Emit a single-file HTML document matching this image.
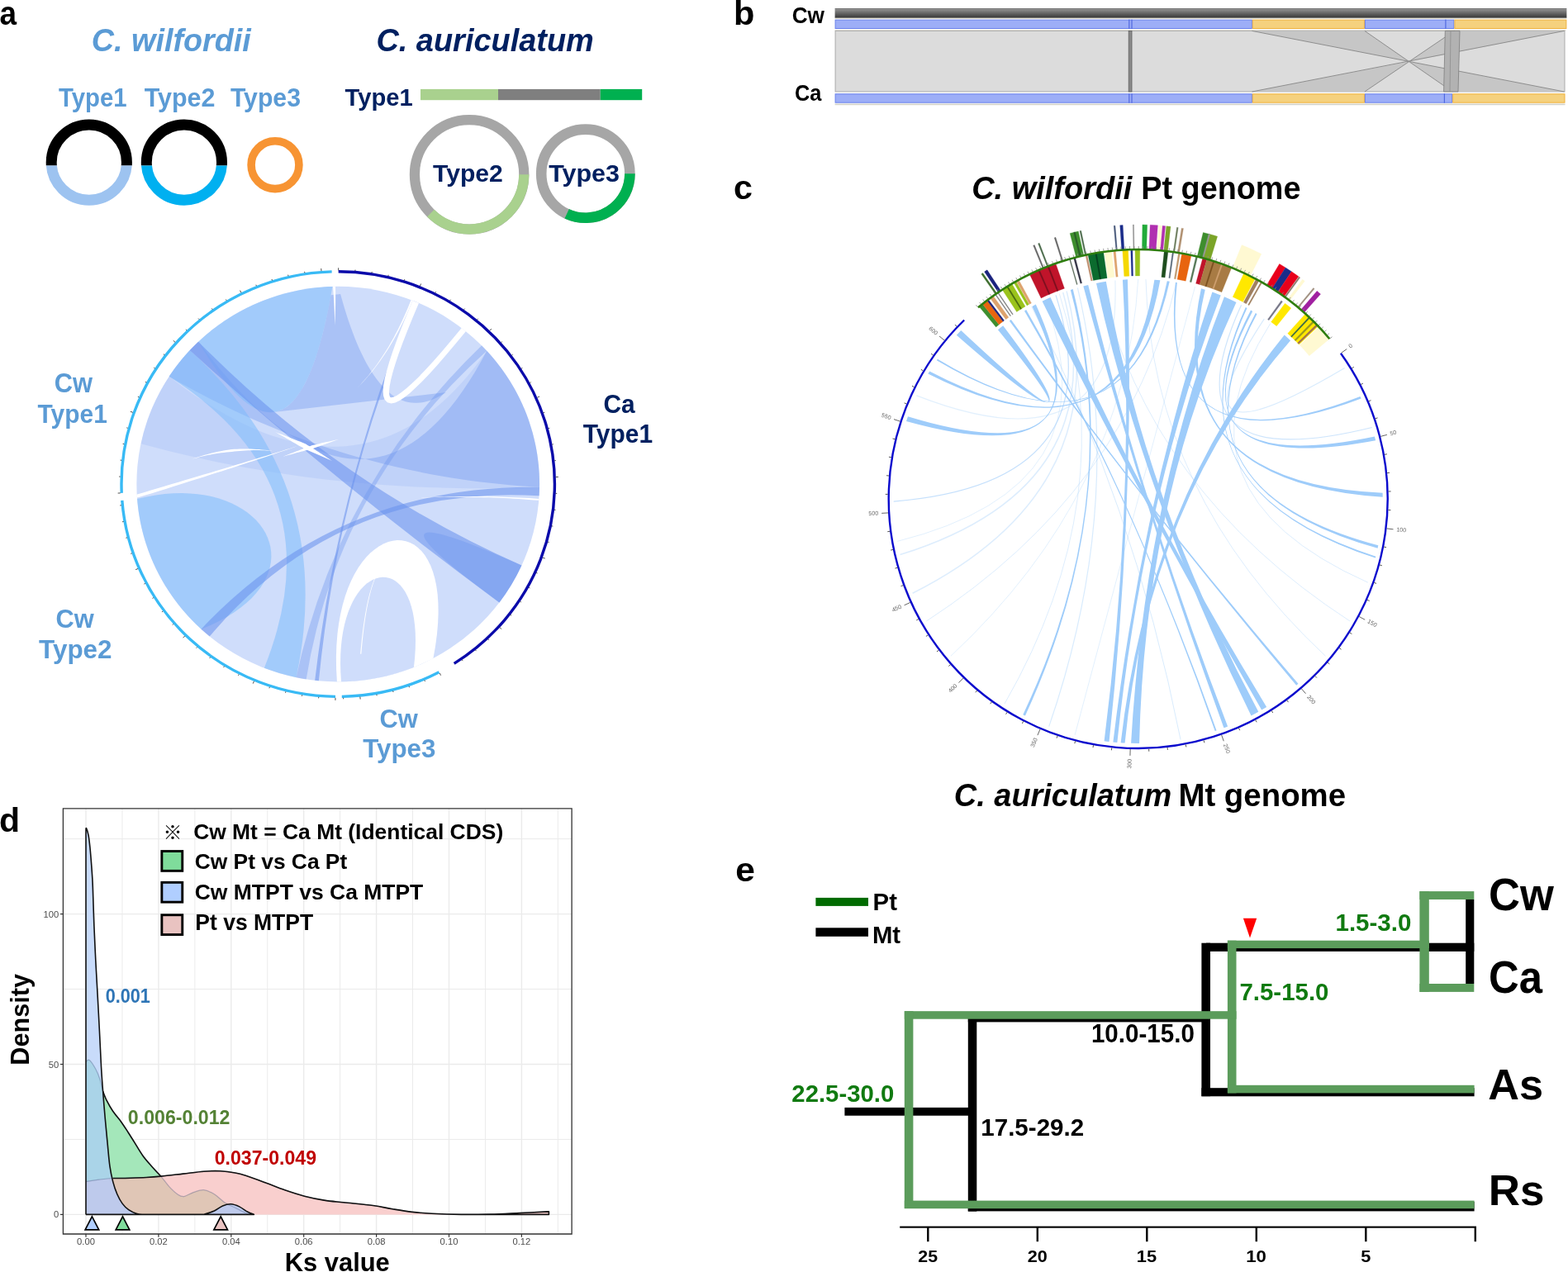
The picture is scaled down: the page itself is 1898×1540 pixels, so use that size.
<!DOCTYPE html>
<html><head><meta charset="utf-8"><style>
html,body{margin:0;padding:0;background:#fff;}
svg{display:block;font-family:"Liberation Sans",Arial,sans-serif;}
</style></head><body>
<svg xmlns="http://www.w3.org/2000/svg" width="1898" height="1540" viewBox="0 0 1898 1540">
<defs>
<clipPath id="cTop"><rect x="0" y="0" width="400" height="200.4"/></clipPath>
<clipPath id="cBot"><rect x="0" y="200.4" width="400" height="100"/></clipPath>
<linearGradient id="gDark" x1="0" y1="0" x2="0" y2="1">
<stop offset="0" stop-color="#5a5a5a"/><stop offset="0.12" stop-color="#8c8c8c"/>
<stop offset="0.6" stop-color="#5c5c5c"/><stop offset="1" stop-color="#353535"/></linearGradient>
<clipPath id="dG"><path d="M104.0,1470.4 L104.0,1285.5 C104.72,1285.15 106.33,1281.93 108.30,1283.40 C110.27,1284.87 113.68,1290.40 115.80,1294.30 C117.92,1298.20 119.53,1302.30 121.00,1306.80 C122.47,1311.30 123.22,1316.98 124.60,1321.30 C125.98,1325.62 127.30,1328.72 129.30,1332.70 C131.30,1336.68 133.65,1340.87 136.60,1345.20 C139.55,1349.53 143.88,1354.37 147.00,1358.70 C150.12,1363.03 152.72,1367.22 155.30,1371.20 C157.88,1375.18 159.57,1377.93 162.50,1382.60 C165.43,1387.27 169.43,1394.35 172.90,1399.20 C176.37,1404.05 179.63,1407.52 183.30,1411.70 C186.97,1415.88 191.28,1420.10 194.90,1424.30 C198.52,1428.50 201.63,1433.28 205.00,1436.90 C208.37,1440.52 212.15,1444.05 215.10,1446.00 C218.05,1447.95 219.53,1449.00 222.70,1448.60 C225.87,1448.20 230.10,1444.92 234.10,1443.60 C238.10,1442.28 242.48,1440.33 246.70,1440.70 C250.92,1441.07 255.18,1443.27 259.40,1445.80 C263.62,1448.33 267.78,1453.17 272.00,1455.90 C276.22,1458.63 280.48,1460.10 284.70,1462.20 C288.92,1464.30 293.93,1467.13 297.30,1468.50 C300.67,1469.87 303.63,1470.08 304.90,1470.40 L304.9,1470.4 Z"/></clipPath>
<clipPath id="dP"><path d="M104.0,1470.4 L104.0,1430.6 C106.72,1430.18 114.85,1428.78 120.30,1428.10 C125.75,1427.42 130.38,1426.82 136.70,1426.50 C143.02,1426.18 151.45,1426.37 158.20,1426.20 C164.95,1426.03 171.08,1425.85 177.20,1425.50 C183.32,1425.15 187.52,1424.83 194.90,1424.10 C202.28,1423.37 212.87,1422.08 221.50,1421.10 C230.13,1420.12 239.18,1418.75 246.70,1418.20 C254.22,1417.65 260.27,1417.50 266.60,1417.80 C272.93,1418.10 279.57,1419.08 284.70,1420.00 C289.83,1420.92 291.33,1421.33 297.40,1423.30 C303.47,1425.27 313.20,1428.88 321.10,1431.80 C329.00,1434.72 336.90,1438.07 344.80,1440.80 C352.70,1443.53 360.58,1446.15 368.50,1448.20 C376.42,1450.25 384.38,1451.83 392.30,1453.10 C400.22,1454.37 406.13,1454.73 416.00,1455.80 C425.87,1456.87 441.63,1458.17 451.50,1459.50 C461.37,1460.83 467.30,1462.48 475.20,1463.80 C483.10,1465.12 490.98,1466.48 498.90,1467.40 C506.82,1468.32 512.82,1468.80 522.70,1469.30 C532.58,1469.80 546.35,1470.28 558.20,1470.40 C570.05,1470.52 581.95,1470.32 593.80,1470.00 C605.65,1469.68 617.65,1469.02 629.30,1468.50 C640.95,1467.98 657.97,1467.17 663.70,1466.90 L664.4,1466.9 L664.4,1470.4 Z"/></clipPath>
</defs>
<rect width="1898" height="1540" fill="#fff"/>
<text x="-0.51" y="29.50" font-size="40.00" font-weight="bold" font-style="normal" fill="#000" textLength="20.58" lengthAdjust="spacingAndGlyphs" >a</text>
<text x="887.90" y="29.60" font-size="40.55" font-weight="bold" font-style="normal" fill="#000" textLength="25.40" lengthAdjust="spacingAndGlyphs" >b</text>
<text x="887.95" y="240.60" font-size="40.93" font-weight="bold" font-style="normal" fill="#000" textLength="22.93" lengthAdjust="spacingAndGlyphs" >c</text>
<text x="-1.14" y="1007.40" font-size="40.41" font-weight="bold" font-style="normal" fill="#000" textLength="25.04" lengthAdjust="spacingAndGlyphs" >d</text>
<text x="890.20" y="1067.20" font-size="40.56" font-weight="bold" font-style="normal" fill="#000" textLength="23.64" lengthAdjust="spacingAndGlyphs" >e</text>
<text x="110.81" y="62.20" font-size="39.14" font-weight="bold" font-style="italic" fill="#5B9BD5" textLength="192.96" lengthAdjust="spacingAndGlyphs" >C. wilfordii</text>
<text x="455.40" y="62.10" font-size="39.57" font-weight="bold" font-style="italic" fill="#002060" textLength="263.45" lengthAdjust="spacingAndGlyphs" >C. auriculatum</text>
<text x="70.91" y="128.60" font-size="30.58" font-weight="bold" font-style="normal" fill="#5B9BD5" textLength="82.66" lengthAdjust="spacingAndGlyphs" >Type1</text>
<text x="174.70" y="128.60" font-size="30.58" font-weight="bold" font-style="normal" fill="#5B9BD5" textLength="85.75" lengthAdjust="spacingAndGlyphs" >Type2</text>
<text x="278.90" y="128.60" font-size="30.58" font-weight="bold" font-style="normal" fill="#5B9BD5" textLength="85.09" lengthAdjust="spacingAndGlyphs" >Type3</text>
<text x="417.61" y="128.10" font-size="30.14" font-weight="bold" font-style="normal" fill="#002060" textLength="82.15" lengthAdjust="spacingAndGlyphs" >Type1</text>
<circle cx="107.8" cy="196.6" r="45.6" fill="none" stroke="#000" stroke-width="13" clip-path="url(#cTop)"/>
<circle cx="107.8" cy="196.6" r="45.6" fill="none" stroke="#9DC3F0" stroke-width="13" clip-path="url(#cBot)"/>
<circle cx="222.9" cy="196.6" r="45.6" fill="none" stroke="#000" stroke-width="13" clip-path="url(#cTop)"/>
<circle cx="222.9" cy="196.6" r="45.6" fill="none" stroke="#00B0F0" stroke-width="13" clip-path="url(#cBot)"/>
<circle cx="333.0" cy="199.7" r="28.9" fill="none" stroke="#F79433" stroke-width="9.6"/>
<rect x="509" y="107.9" width="94" height="13.3" fill="#A9D18E"/>
<rect x="603" y="107.9" width="123.7" height="13.3" fill="#7F7F7F"/>
<rect x="726.7" y="107.9" width="50.5" height="13.3" fill="#00B050"/>
<circle cx="568.1" cy="211.3" r="66.2" fill="none" stroke="#A6A6A6" stroke-width="12.2"/>
<path d="M634.30,211.30 A66.2,66.2 0 0 1 521.29,258.11" fill="none" stroke="#A9D18E" stroke-width="12.2"/>
<circle cx="708.8" cy="210.2" r="53.6" fill="none" stroke="#A6A6A6" stroke-width="12.6"/>
<path d="M762.40,210.20 A53.6,53.6 0 0 1 686.15,258.78" fill="none" stroke="#00B050" stroke-width="12.6"/>
<text x="524.00" y="220.20" font-size="29.86" font-weight="bold" font-style="normal" fill="#002060" textLength="84.84" lengthAdjust="spacingAndGlyphs" >Type2</text>
<text x="664.20" y="220.20" font-size="29.86" font-weight="bold" font-style="normal" fill="#002060" textLength="85.70" lengthAdjust="spacingAndGlyphs" >Type3</text>
<ellipse cx="409.2" cy="586.1" rx="243.85" ry="239.3" fill="#CFDDFB"/>
<path d="M524.43,797.00 L521.75,798.39 L519.05,799.74 L516.33,801.07 L513.60,802.36 L510.85,803.61 L508.09,804.84 L505.31,806.03 L502.52,807.18 L499.71,808.31 L496.88,809.39 L494.05,810.45 L491.20,811.46 L488.34,812.45 L485.46,813.40 L482.58,814.31 L479.68,815.19 L476.77,816.03 L473.85,816.84 L470.92,817.61 L467.99,818.34 L465.04,819.04 L462.08,819.71 L459.12,820.33 L456.15,820.92 L453.17,821.48 L450.18,822.00 L447.19,822.48 L444.19,822.92 L441.19,823.33 L438.18,823.70 L435.17,824.04 L432.15,824.34 L429.13,824.60 L426.10,824.82 L423.08,825.01 L420.05,825.16 L417.02,825.28 L413.99,825.35 L410.96,825.39 L407.92,825.40 L407.92,825.40 L407.08,809.97 L406.90,795.23 L407.36,781.21 L408.41,767.89 L410.02,755.28 L412.15,743.39 L414.76,732.22 L417.82,721.78 L421.28,712.07 L425.11,703.09 L429.28,694.85 L433.73,687.35 L438.45,680.61 L443.38,674.61 L448.49,669.37 L453.74,664.89 L459.10,661.18 L464.52,658.24 L469.97,656.07 L475.42,654.67 L480.82,654.06 L486.13,654.24 L491.33,655.21 L496.36,656.98 L501.20,659.54 L505.80,662.91 L510.13,667.09 L514.15,672.08 L517.82,677.89 L521.10,684.52 L523.96,691.98 L526.36,700.27 L528.26,709.39 L529.63,719.35 L530.42,730.16 L530.60,741.81 L530.12,754.32 L528.96,767.68 L527.08,781.91 L524.43,797.00 Z" fill="#fff"/>
<path d="M500.94,807.82 L498.85,808.64 L496.75,809.45 L494.64,810.23 L492.52,811.00 L490.40,811.74 L488.27,812.47 L486.13,813.18 L483.99,813.87 L481.84,814.54 L479.68,815.19 L477.52,815.82 L475.35,816.43 L473.18,817.02 L471.00,817.59 L468.81,818.14 L466.62,818.67 L464.43,819.18 L462.23,819.67 L460.02,820.14 L457.82,820.60 L455.60,821.03 L453.39,821.44 L451.17,821.83 L448.94,822.20 L446.72,822.55 L444.49,822.88 L442.25,823.19 L440.02,823.48 L437.78,823.75 L435.54,824.00 L433.29,824.23 L431.05,824.44 L428.80,824.63 L426.55,824.79 L424.30,824.94 L422.05,825.07 L419.79,825.17 L417.54,825.26 L415.29,825.33 L413.03,825.37 L413.03,825.37 L412.30,813.97 L412.04,803.09 L412.23,792.71 L412.84,782.86 L413.85,773.53 L415.23,764.73 L416.95,756.47 L419.00,748.73 L421.34,741.54 L423.95,734.89 L426.80,728.78 L429.87,723.23 L433.14,718.24 L436.57,713.80 L440.14,709.93 L443.83,706.62 L447.62,703.89 L451.46,701.73 L455.35,700.15 L459.25,699.15 L463.13,698.74 L466.99,698.92 L470.78,699.70 L474.48,701.07 L478.07,703.05 L481.51,705.64 L484.80,708.83 L487.89,712.65 L490.77,717.08 L493.41,722.13 L495.79,727.81 L497.87,734.13 L499.63,741.07 L501.05,748.66 L502.10,756.89 L502.76,765.76 L503.00,775.29 L502.79,785.47 L502.11,796.31 L500.94,807.82 Z" fill="#CFDDFB"/>
<path d="M400.57,357.37 L399.33,364.10 L398.06,370.67 L396.77,377.08 L395.45,383.32 L394.11,389.40 L392.74,395.31 L391.35,401.06 L389.93,406.65 L388.48,412.07 L387.01,417.33 L385.52,422.43 L384.00,427.36 L382.45,432.13 L380.88,436.74 L379.28,441.18 L377.66,445.46 L376.01,449.57 L374.34,453.52 L372.64,457.31 L370.92,460.93 L369.17,464.39 L367.39,467.69 L365.59,470.82 L363.76,473.79 L361.91,476.59 L360.03,479.23 L358.13,481.71 L356.20,484.02 L354.25,486.17 L352.27,488.16 L350.27,489.98 L348.24,491.64 L346.18,493.13 L344.10,494.47 L341.99,495.63 L339.86,496.64 L337.71,497.48 L335.52,498.15 L333.32,498.67 L331.08,499.01 L539.85,475.02 L535.84,477.58 L531.88,479.86 L527.95,481.85 L524.07,483.56 L520.23,484.98 L516.43,486.12 L512.68,486.98 L508.96,487.55 L505.29,487.84 L501.66,487.84 L498.07,487.56 L494.52,487.00 L491.01,486.15 L487.55,485.02 L484.13,483.61 L480.75,481.91 L477.41,479.93 L474.11,477.67 L470.85,475.12 L467.64,472.29 L464.46,469.17 L461.33,465.77 L458.24,462.09 L455.19,458.12 L452.19,453.87 L449.22,449.33 L446.30,444.52 L443.42,439.41 L440.58,434.03 L437.78,428.36 L435.02,422.41 L432.31,416.17 L429.63,409.65 L427.00,402.84 L424.41,395.76 L421.86,388.39 L419.36,380.73 L416.89,372.79 L414.47,364.57 L412.09,356.06 Z" fill="#6A93EE" fill-opacity="0.36"/>
<path d="M589.27,424.74 L592.34,428.11 L595.35,431.53 L598.30,435.01 L601.17,438.54 L603.98,442.13 L606.71,445.76 L609.38,449.45 L611.97,453.19 L614.50,456.97 L616.95,460.80 L619.32,464.67 L621.62,468.59 L623.85,472.55 L625.99,476.55 L628.06,480.59 L630.06,484.66 L631.97,488.78 L633.80,492.92 L635.56,497.11 L637.23,501.32 L638.82,505.56 L640.33,509.83 L641.76,514.13 L643.10,518.46 L644.36,522.80 L645.54,527.18 L646.63,531.57 L647.64,535.98 L648.56,540.41 L649.40,544.85 L650.15,549.32 L650.81,553.79 L651.39,558.27 L651.88,562.77 L652.29,567.27 L652.61,571.78 L652.84,576.30 L652.99,580.82 L653.05,585.34 L653.02,589.86 L653.02,589.86 L641.00,589.12 L629.03,588.25 L617.10,587.25 L605.20,586.11 L593.35,584.84 L581.55,583.44 L569.78,581.89 L558.05,580.22 L546.37,578.41 L534.73,576.47 L523.13,574.39 L511.57,572.18 L500.05,569.83 L488.57,567.35 L477.14,564.74 L465.74,561.99 L454.39,559.11 L443.08,556.09 L431.81,552.94 L420.58,549.66 L409.39,546.24 L398.24,542.68 L387.14,539.00 L376.08,535.17 L365.05,531.22 L354.07,527.13 L343.13,522.90 L332.24,518.54 L321.38,514.05 L310.57,509.42 L299.79,504.66 L289.06,499.77 L278.37,494.74 L267.72,489.57 L257.11,484.27 L246.55,478.84 L236.02,473.27 L225.54,467.57 L215.09,461.74 L204.69,455.77 L204.69,455.77 L205.46,454.62 L206.22,453.48 L207.00,452.35 L207.78,451.21 L208.57,450.09 L209.37,448.96 L210.17,447.84 L210.98,446.73 L211.79,445.62 L212.61,444.52 L213.44,443.42 L214.28,442.32 L215.12,441.23 L215.96,440.14 L216.82,439.06 L217.68,437.98 L218.54,436.91 L219.41,435.84 L220.29,434.78 L221.18,433.73 L222.07,432.67 L222.96,431.63 L223.87,430.58 L224.78,429.55 L225.69,428.51 L226.61,427.49 L227.54,426.47 L228.47,425.45 L229.41,424.44 L230.35,423.43 L231.31,422.43 L232.26,421.44 L233.22,420.45 L234.19,419.46 L235.16,418.48 L236.14,417.51 L237.13,416.54 L238.12,415.58 L239.11,414.62 L240.12,413.67 L240.12,413.67 L250.48,427.27 L260.77,440.19 L270.97,452.42 L281.08,463.97 L291.11,474.84 L301.06,485.02 L310.92,494.52 L320.70,503.34 L330.40,511.47 L340.01,518.92 L349.53,525.69 L358.98,531.78 L368.34,537.18 L377.61,541.89 L386.80,545.93 L395.91,549.28 L404.93,551.95 L413.87,553.93 L422.73,555.23 L431.50,555.85 L440.18,555.79 L448.79,555.04 L457.30,553.61 L465.74,551.49 L474.09,548.70 L482.36,545.21 L490.54,541.05 L498.64,536.20 L506.65,530.67 L514.58,524.46 L522.43,517.56 L530.19,509.98 L537.87,501.72 L545.47,492.77 L552.98,483.14 L560.40,472.83 L567.75,461.83 L575.00,450.15 L582.18,437.79 L589.27,424.74 Z" fill="#6A93EE" fill-opacity="0.36"/>
<path d="M589.27,424.74 L592.34,428.11 L595.35,431.53 L598.30,435.01 L601.17,438.54 L603.98,442.13 L606.71,445.76 L609.38,449.45 L611.97,453.19 L614.50,456.97 L616.95,460.80 L619.32,464.67 L621.62,468.59 L623.85,472.55 L625.99,476.55 L628.06,480.59 L630.06,484.66 L631.97,488.78 L633.80,492.92 L635.56,497.11 L637.23,501.32 L638.82,505.56 L640.33,509.83 L641.76,514.13 L643.10,518.46 L644.36,522.80 L645.54,527.18 L646.63,531.57 L647.64,535.98 L648.56,540.41 L649.40,544.85 L650.15,549.32 L650.81,553.79 L651.39,558.27 L651.88,562.77 L652.29,567.27 L652.61,571.78 L652.84,576.30 L652.99,580.82 L653.05,585.34 L653.02,589.86 L653.02,589.86 L640.38,590.32 L627.77,590.69 L615.20,590.97 L602.65,591.16 L590.13,591.25 L577.64,591.26 L565.18,591.17 L552.75,591.00 L540.35,590.73 L527.98,590.37 L515.64,589.92 L503.32,589.38 L491.04,588.74 L478.79,588.02 L466.56,587.20 L454.37,586.30 L442.20,585.30 L430.07,584.21 L417.96,583.03 L405.88,581.76 L393.83,580.39 L381.81,578.94 L369.82,577.39 L357.86,575.76 L345.93,574.03 L334.03,572.21 L322.16,570.30 L310.32,568.30 L298.51,566.20 L286.72,564.02 L274.97,561.75 L263.24,559.38 L251.55,556.92 L239.88,554.37 L228.25,551.73 L216.64,549.00 L205.06,546.18 L193.51,543.27 L182.00,540.26 L170.51,537.16 L170.51,537.16 L170.98,535.00 L171.47,532.84 L171.98,530.68 L172.51,528.53 L173.07,526.39 L173.64,524.25 L174.23,522.11 L174.85,519.98 L175.48,517.85 L176.13,515.74 L176.81,513.62 L177.50,511.52 L178.21,509.42 L178.94,507.32 L179.70,505.24 L180.47,503.16 L181.26,501.08 L182.07,499.02 L182.90,496.96 L183.75,494.91 L184.62,492.87 L185.51,490.83 L186.42,488.81 L187.34,486.79 L188.29,484.78 L189.25,482.78 L190.24,480.79 L191.24,478.80 L192.26,476.83 L193.30,474.86 L194.36,472.91 L195.43,470.96 L196.53,469.03 L197.64,467.10 L198.77,465.19 L199.92,463.28 L201.09,461.39 L202.27,459.50 L203.47,457.63 L204.69,455.77 L204.69,455.77 L216.40,464.73 L228.01,473.19 L239.51,481.16 L250.89,488.62 L262.18,495.58 L273.35,502.05 L284.42,508.01 L295.37,513.48 L306.23,518.45 L316.97,522.92 L327.61,526.88 L338.13,530.35 L348.55,533.32 L358.87,535.79 L369.07,537.76 L379.17,539.23 L389.16,540.21 L399.05,540.68 L408.82,540.65 L418.49,540.13 L428.05,539.10 L437.50,537.58 L446.85,535.55 L456.09,533.03 L465.22,530.01 L474.24,526.48 L483.16,522.46 L491.96,517.94 L500.66,512.92 L509.26,507.40 L517.74,501.38 L526.12,494.86 L534.39,487.85 L542.55,480.33 L550.61,472.31 L558.56,463.80 L566.40,454.78 L574.13,445.27 L581.75,435.25 L589.27,424.74 Z" fill="#6A93EE" fill-opacity="0.14"/>
<path d="M240.12,413.67 L243.39,410.64 L246.72,407.67 L250.10,404.75 L253.54,401.90 L257.03,399.11 L260.57,396.39 L264.16,393.73 L267.81,391.14 L271.50,388.61 L275.23,386.15 L279.02,383.76 L282.84,381.43 L286.72,379.18 L290.63,377.00 L294.58,374.88 L298.57,372.84 L302.60,370.88 L306.67,368.98 L310.77,367.16 L314.90,365.42 L319.07,363.75 L323.27,362.15 L327.49,360.63 L331.75,359.19 L336.03,357.83 L340.33,356.54 L344.66,355.33 L349.01,354.20 L353.38,353.15 L357.77,352.18 L362.18,351.29 L366.61,350.48 L371.04,349.75 L375.49,349.10 L379.96,348.53 L384.43,348.04 L388.91,347.63 L393.40,347.30 L397.89,347.06 L402.39,346.89 L402.39,346.89 L400.10,359.93 L397.72,372.38 L395.25,384.25 L392.69,395.53 L390.04,406.24 L387.29,416.36 L384.46,425.89 L381.54,434.85 L378.52,443.22 L375.41,451.01 L372.22,458.21 L368.93,464.84 L365.55,470.88 L362.09,476.33 L358.53,481.21 L354.88,485.50 L351.14,489.21 L347.31,492.34 L343.39,494.88 L339.38,496.84 L335.27,498.22 L331.08,499.01 L326.80,499.23 L322.42,498.86 L317.96,497.90 L313.40,496.37 L308.76,494.25 L304.02,491.55 L299.20,488.26 L294.28,484.40 L289.27,479.95 L284.17,474.91 L278.98,469.30 L273.70,463.10 L268.33,456.32 L262.87,448.96 L257.32,441.01 L251.67,432.48 L245.94,423.37 L240.12,413.67 Z" fill="#7DBCFB" fill-opacity="0.55"/>
<path d="M243.52,761.68 L240.20,758.61 L236.94,755.47 L233.74,752.28 L230.60,749.03 L227.52,745.72 L224.51,742.35 L221.56,738.93 L218.68,735.46 L215.87,731.93 L213.12,728.36 L210.44,724.73 L207.83,721.06 L205.29,717.33 L202.82,713.56 L200.43,709.75 L198.11,705.89 L195.86,702.00 L193.69,698.06 L191.59,694.08 L189.57,690.06 L187.62,686.01 L185.76,681.92 L183.97,677.80 L182.26,673.65 L180.63,669.46 L179.08,665.25 L177.61,661.01 L176.22,656.74 L174.91,652.45 L173.69,648.14 L172.55,643.80 L171.49,639.44 L170.51,635.07 L169.62,630.67 L168.81,626.27 L168.09,621.84 L167.45,617.41 L166.89,612.96 L166.42,608.51 L166.04,604.04 L166.04,604.04 L177.45,601.44 L188.56,599.46 L199.36,598.09 L209.85,597.30 L219.99,597.08 L229.78,597.39 L239.20,598.21 L248.24,599.52 L256.88,601.30 L265.10,603.53 L272.90,606.17 L280.25,609.22 L287.14,612.63 L293.55,616.40 L299.47,620.50 L304.89,624.90 L309.79,629.58 L314.15,634.53 L317.95,639.70 L321.20,645.09 L323.85,650.67 L325.92,656.41 L327.37,662.30 L328.19,668.30 L328.37,674.40 L327.89,680.58 L326.73,686.80 L324.89,693.05 L322.34,699.30 L319.08,705.54 L315.08,711.73 L310.33,717.85 L304.82,723.89 L298.52,729.81 L291.43,735.60 L283.53,741.22 L274.81,746.67 L265.24,751.91 L254.82,756.92 L243.52,761.68 Z" fill="#7DBCFB" fill-opacity="0.55"/>
<path d="M358.50,820.17 A243.85,239.30 0 0 1 319.83,808.75 Q409.20,586.10 204.69,455.77 A243.85,239.30 0 0 1 229.71,424.12 Q409.20,586.10 358.50,820.17 Z" fill="#7DBCFB" fill-opacity="0.55"/>
<path d="M229.71,424.12 A243.85,239.30 0 0 1 240.12,413.67 Q409.20,586.10 631.44,684.58 A243.85,239.30 0 0 1 604.46,729.45 Q409.20,586.10 229.71,424.12 Z" fill="#6A93EE" fill-opacity="0.58"/>
<path d="M253.77,770.48 A243.85,239.30 0 0 1 243.52,761.68 Q409.20,586.10 653.02,589.86 A243.85,239.30 0 0 1 652.62,600.29 Q409.20,586.10 253.77,770.48 Z" fill="#6A93EE" fill-opacity="0.58"/>
<path d="M370.63,822.39 A243.85,239.30 0 0 1 358.50,820.17 Q409.20,586.10 583.12,418.37 A243.85,239.30 0 0 1 589.27,424.74 Q409.20,586.10 370.63,822.39 Z" fill="#6A93EE" fill-opacity="0.36"/>
<path d="M385.83,824.30 A243.85,239.30 0 0 1 381.17,823.81 Q409.20,586.10 500.55,364.22 A243.85,239.30 0 0 1 504.09,365.66 Q409.20,586.10 385.83,824.30 Z" fill="#6A93EE" fill-opacity="0.58"/>
<path d="M631.44,684.58 A243.85,239.30 0 0 1 604.46,729.45 Q409.20,586.10 631.44,684.58 A243.85,239.30 0 0 1 604.46,729.45 Q409.20,586.10 631.44,684.58 Z" fill="#6A93EE" fill-opacity="0.36"/>
<path d="M403.02,346.92 L403.18,349.05 L403.34,351.17 L403.49,353.27 L403.63,355.36 L403.77,357.43 L403.90,359.49 L404.02,361.53 L404.14,363.55 L404.25,365.56 L404.36,367.56 L404.45,369.54 L404.54,371.51 L404.63,373.46 L404.71,375.39 L404.78,377.31 L404.84,379.21 L404.90,381.10 L404.95,382.98 L405.00,384.84 L405.03,386.68 L405.07,388.51 L405.09,390.32 L405.11,392.12 L405.12,393.91 L405.12,393.91 L405.23,392.13 L405.34,390.33 L405.44,388.52 L405.53,386.69 L405.62,384.84 L405.70,382.98 L405.77,381.11 L405.84,379.22 L405.90,377.31 L405.96,375.38 L406.00,373.44 L406.04,371.49 L406.08,369.51 L406.11,367.53 L406.13,365.52 L406.14,363.50 L406.15,361.47 L406.15,359.41 L406.14,357.35 L406.13,355.26 L406.11,353.16 L406.09,351.05 L406.06,348.92 L406.02,346.77 Z" fill="#fff"/>
<path d="M499.62,363.77 L492.22,381.52 L485.66,397.86 L479.96,412.79 L475.11,426.33 L471.11,438.47 L467.96,449.22 L465.66,458.62 L464.21,466.68 L463.63,473.47 L464.00,479.12 L465.57,483.81 L468.94,487.29 L473.61,488.45 L478.47,487.50 L483.61,485.07 L489.33,481.28 L495.78,476.13 L503.01,469.61 L511.05,461.70 L519.93,452.40 L529.64,441.69 L540.20,429.58 L551.60,416.06 L563.85,401.13 L558.81,397.03 L546.56,411.86 L535.17,425.26 L524.65,437.24 L514.99,447.79 L506.21,456.91 L498.30,464.60 L491.29,470.84 L485.21,475.62 L480.11,478.93 L476.14,480.77 L473.59,481.26 L472.58,481.02 L471.97,480.27 L471.27,477.90 L471.07,473.66 L471.64,467.73 L473.05,460.23 L475.32,451.24 L478.45,440.78 L482.43,428.87 L487.28,415.52 L492.99,400.74 L499.56,384.54 L506.98,366.90 Z" fill="#fff"/>
<path d="M497.64,363.08 L495.43,368.60 L493.17,374.03 L490.87,379.36 L488.53,384.60 L486.14,389.75 L483.71,394.80 L481.23,399.76 L478.71,404.62 L476.15,409.39 L473.54,414.06 L470.89,418.64 L468.19,423.13 L465.45,427.52 L462.66,431.82 L459.84,436.02 L456.96,440.14 L454.04,444.15 L451.08,448.07 L448.07,451.90 L445.02,455.64 L441.93,459.28 L438.79,462.82 L435.60,466.28 L432.37,469.64 L432.37,469.64 L435.66,466.33 L438.91,462.94 L442.11,459.44 L445.28,455.85 L448.40,452.17 L451.47,448.38 L454.51,444.50 L457.50,440.53 L460.45,436.45 L463.36,432.29 L466.22,428.02 L469.04,423.66 L471.82,419.20 L474.55,414.65 L477.24,410.00 L479.89,405.25 L482.49,400.41 L485.05,395.47 L487.57,390.44 L490.04,385.31 L492.47,380.08 L494.86,374.76 L497.20,369.34 L499.50,363.82 Z" fill="#fff"/>
<path d="M652.37,603.88 L646.29,603.47 L640.21,603.08 L634.14,602.74 L628.07,602.42 L622.00,602.13 L615.94,601.88 L609.89,601.65 L603.84,601.46 L597.79,601.30 L591.75,601.17 L585.72,601.07 L579.69,601.01 L573.66,600.97 L567.64,600.97 L561.62,601.00 L555.61,601.06 L549.61,601.15 L543.60,601.27 L537.61,601.42 L531.62,601.61 L525.63,601.83 L519.64,602.08 L513.67,602.35 L507.69,602.67 L507.69,602.67 L513.67,602.44 L519.65,602.24 L525.64,602.08 L531.62,601.94 L537.62,601.84 L543.61,601.77 L549.61,601.73 L555.62,601.72 L561.63,601.75 L567.64,601.80 L573.65,601.89 L579.67,602.01 L585.70,602.16 L591.72,602.34 L597.76,602.55 L603.79,602.79 L609.83,603.07 L615.87,603.37 L621.92,603.71 L627.97,604.08 L634.03,604.48 L640.09,604.91 L646.15,605.38 L652.22,605.87 Z" fill="#fff"/>
<path d="M166.39,602.62 L175.23,599.87 L183.91,597.16 L192.43,594.50 L200.78,591.88 L208.97,589.31 L216.99,586.78 L224.84,584.30 L232.53,581.87 L240.06,579.49 L247.42,577.14 L254.62,574.85 L261.65,572.60 L268.51,570.40 L275.21,568.24 L281.75,566.13 L288.12,564.07 L294.33,562.05 L300.37,560.08 L306.25,558.15 L311.96,556.27 L317.50,554.44 L322.89,552.65 L328.10,550.91 L333.16,549.21 L338.04,547.56 L342.76,545.96 L347.32,544.40 L351.71,542.89 L355.94,541.42 L360.00,540.00 L360.00,540.00 L355.90,541.29 L351.63,542.63 L347.20,544.02 L342.60,545.45 L337.84,546.92 L332.91,548.45 L327.82,550.02 L322.56,551.63 L317.14,553.29 L311.55,555.00 L305.80,556.75 L299.89,558.55 L293.81,560.40 L287.56,562.29 L281.15,564.22 L274.58,566.21 L267.84,568.23 L260.94,570.31 L253.87,572.43 L246.63,574.60 L239.23,576.81 L231.67,579.07 L223.94,581.37 L216.05,583.72 L207.99,586.12 L199.77,588.56 L191.38,591.05 L182.83,593.59 L174.11,596.17 L165.23,598.80 Z" fill="#fff"/>
<path d="M232.00,556.00 L235.23,555.05 L238.47,554.16 L241.70,553.31 L244.94,552.51 L248.18,551.76 L251.42,551.06 L254.66,550.41 L257.91,549.81 L261.15,549.26 L264.40,548.76 L267.65,548.31 L270.90,547.91 L274.15,547.55 L277.40,547.25 L280.65,546.99 L283.89,546.59 L287.14,546.23 L290.39,545.92 L293.65,545.66 L296.92,545.44 L300.19,545.28 L303.47,545.16 L306.76,545.10 L310.06,545.08 L313.37,545.11 L316.68,545.19 L320.00,545.32 L323.32,545.50 L326.66,545.72 L330.00,546.00 L330.00,546.00 L326.68,545.52 L323.36,545.10 L320.04,544.72 L316.73,544.39 L313.41,544.11 L310.10,543.88 L306.79,543.70 L303.48,543.56 L300.17,543.48 L296.86,543.44 L293.56,543.46 L290.25,543.52 L286.95,543.63 L283.65,543.80 L280.35,544.01 L277.07,544.47 L273.81,544.98 L270.54,545.53 L267.29,546.14 L264.05,546.79 L260.81,547.50 L257.58,548.25 L254.36,549.05 L251.14,549.90 L247.93,550.79 L244.73,551.74 L241.54,552.73 L238.35,553.77 L235.17,554.86 L232.00,556.00 Z" fill="#fff"/>
<path d="M333.00,523.00 L335.38,524.32 L337.74,525.63 L340.10,526.95 L342.44,528.27 L344.77,529.60 L347.08,530.92 L349.39,532.25 L351.68,533.58 L353.96,534.91 L356.23,536.24 L358.49,537.57 L360.73,538.91 L362.96,540.25 L365.18,541.58 L367.39,542.93 L369.77,543.91 L372.14,544.90 L374.50,545.89 L376.84,546.89 L379.18,547.88 L381.51,548.88 L383.83,549.88 L386.13,550.89 L388.43,551.90 L390.72,552.91 L392.99,553.92 L395.26,554.94 L397.52,555.95 L399.76,556.98 L402.00,558.00 L402.00,558.00 L399.96,556.63 L397.91,555.25 L395.84,553.88 L393.76,552.52 L391.67,551.15 L389.57,549.78 L387.46,548.42 L385.33,547.06 L383.19,545.70 L381.04,544.34 L378.88,542.98 L376.70,541.63 L374.52,540.28 L372.32,538.92 L370.11,537.57 L367.70,536.58 L365.29,535.60 L362.87,534.61 L360.44,533.63 L357.99,532.65 L355.54,531.67 L353.07,530.70 L350.60,529.73 L348.12,528.76 L345.62,527.79 L343.12,526.83 L340.60,525.87 L338.08,524.91 L335.55,523.95 L333.00,523.00 Z" fill="#fff"/>
<path d="M342.00,553.00 L344.57,552.27 L347.12,551.54 L349.65,550.83 L352.16,550.13 L354.65,549.44 L357.13,548.76 L359.59,548.09 L362.03,547.44 L364.45,546.79 L366.85,546.16 L369.24,545.54 L371.60,544.93 L373.95,544.33 L376.28,543.74 L378.59,543.16 L380.80,542.34 L383.00,541.53 L385.18,540.73 L387.34,539.94 L389.49,539.17 L391.62,538.40 L393.73,537.65 L395.82,536.90 L397.90,536.17 L399.96,535.45 L402.00,534.74 L404.03,534.04 L406.03,533.35 L408.03,532.67 L410.00,532.00 L410.00,532.00 L407.96,532.41 L405.89,532.83 L403.81,533.26 L401.71,533.71 L399.60,534.16 L397.46,534.63 L395.31,535.11 L393.13,535.60 L390.94,536.10 L388.73,536.61 L386.50,537.13 L384.26,537.67 L381.99,538.21 L379.71,538.77 L377.41,539.34 L375.17,540.17 L372.91,541.02 L370.64,541.87 L368.35,542.74 L366.04,543.62 L363.71,544.51 L361.37,545.41 L359.01,546.32 L356.63,547.24 L354.23,548.17 L351.82,549.12 L349.39,550.07 L346.95,551.04 L344.48,552.01 L342.00,553.00 Z" fill="#fff"/>
<path d="M437.35,791.83 L437.84,785.96 L438.35,780.24 L438.90,774.67 L439.48,769.25 L440.10,763.98 L440.74,758.86 L441.42,753.89 L442.13,749.06 L442.86,744.39 L443.64,739.87 L444.44,735.49 L445.27,731.26 L446.14,727.19 L447.04,723.26 L447.97,719.48 L448.93,715.85 L449.92,712.37 L450.95,709.04 L452.00,705.86 L453.09,702.82 L454.21,699.94 L455.36,697.21 L456.54,694.62 L457.76,692.18 L459.00,689.89 L460.28,687.76 L461.59,685.76 L462.93,683.92 L464.30,682.23 L465.71,680.68 L465.49,680.47 L464.05,682.01 L462.65,683.70 L461.27,685.54 L459.92,687.53 L458.61,689.67 L457.33,691.96 L456.08,694.40 L454.87,696.99 L453.68,699.72 L452.53,702.61 L451.41,705.65 L450.32,708.84 L449.26,712.17 L448.23,715.66 L447.24,719.29 L446.28,723.08 L445.35,727.01 L444.45,731.09 L443.58,735.32 L442.75,739.71 L441.95,744.24 L441.18,748.92 L440.44,753.75 L439.73,758.73 L439.05,763.85 L438.41,769.13 L437.80,774.56 L437.22,780.13 L436.67,785.86 L436.15,791.73 Z" fill="#fff"/>
<path d="M409.66,328.80 A262.19,257.30 0 0 1 549.69,803.35" fill="none" stroke="#0A0AAA" stroke-width="3.4"/>
<line x1="409.66" y1="327.30" x2="409.67" y2="324.30" stroke="#222" stroke-width="0.8"/>
<line x1="429.89" y1="328.10" x2="430.01" y2="326.60" stroke="#222" stroke-width="0.8"/>
<line x1="450.00" y1="330.42" x2="450.24" y2="328.93" stroke="#222" stroke-width="0.8"/>
<line x1="469.87" y1="334.24" x2="470.22" y2="332.78" stroke="#222" stroke-width="0.8"/>
<line x1="489.38" y1="339.55" x2="489.84" y2="338.12" stroke="#222" stroke-width="0.8"/>
<line x1="508.42" y1="346.31" x2="509.57" y2="343.53" stroke="#222" stroke-width="0.8"/>
<line x1="526.87" y1="354.49" x2="527.55" y2="353.15" stroke="#222" stroke-width="0.8"/>
<line x1="544.63" y1="364.03" x2="545.41" y2="362.75" stroke="#222" stroke-width="0.8"/>
<line x1="561.59" y1="374.88" x2="562.47" y2="373.66" stroke="#222" stroke-width="0.8"/>
<line x1="577.65" y1="386.98" x2="578.63" y2="385.83" stroke="#222" stroke-width="0.8"/>
<line x1="592.72" y1="400.25" x2="594.85" y2="398.09" stroke="#222" stroke-width="0.8"/>
<line x1="606.71" y1="414.61" x2="607.86" y2="413.62" stroke="#222" stroke-width="0.8"/>
<line x1="619.54" y1="429.99" x2="620.76" y2="429.08" stroke="#222" stroke-width="0.8"/>
<line x1="631.12" y1="446.29" x2="632.41" y2="445.48" stroke="#222" stroke-width="0.8"/>
<line x1="641.40" y1="463.41" x2="642.74" y2="462.69" stroke="#222" stroke-width="0.8"/>
<line x1="650.30" y1="481.25" x2="653.10" y2="480.03" stroke="#222" stroke-width="0.8"/>
<line x1="657.79" y1="499.71" x2="659.23" y2="499.21" stroke="#222" stroke-width="0.8"/>
<line x1="663.81" y1="518.68" x2="665.29" y2="518.29" stroke="#222" stroke-width="0.8"/>
<line x1="668.33" y1="538.05" x2="669.83" y2="537.77" stroke="#222" stroke-width="0.8"/>
<line x1="671.32" y1="557.70" x2="672.84" y2="557.54" stroke="#222" stroke-width="0.8"/>
<line x1="672.77" y1="577.52" x2="675.83" y2="577.42" stroke="#222" stroke-width="0.8"/>
<line x1="672.67" y1="597.39" x2="674.19" y2="597.45" stroke="#222" stroke-width="0.8"/>
<line x1="671.01" y1="617.19" x2="672.52" y2="617.37" stroke="#222" stroke-width="0.8"/>
<line x1="667.80" y1="636.81" x2="669.30" y2="637.10" stroke="#222" stroke-width="0.8"/>
<line x1="663.08" y1="656.13" x2="664.55" y2="656.54" stroke="#222" stroke-width="0.8"/>
<line x1="656.86" y1="675.04" x2="659.73" y2="676.07" stroke="#222" stroke-width="0.8"/>
<line x1="649.17" y1="693.42" x2="650.56" y2="694.04" stroke="#222" stroke-width="0.8"/>
<line x1="640.08" y1="711.17" x2="641.41" y2="711.90" stroke="#222" stroke-width="0.8"/>
<line x1="629.62" y1="728.19" x2="630.89" y2="729.01" stroke="#222" stroke-width="0.8"/>
<line x1="617.86" y1="744.36" x2="619.07" y2="745.28" stroke="#222" stroke-width="0.8"/>
<line x1="604.87" y1="759.61" x2="607.14" y2="761.62" stroke="#222" stroke-width="0.8"/>
<line x1="590.73" y1="773.83" x2="591.78" y2="774.91" stroke="#222" stroke-width="0.8"/>
<line x1="575.52" y1="786.94" x2="576.48" y2="788.10" stroke="#222" stroke-width="0.8"/>
<line x1="559.33" y1="798.87" x2="560.20" y2="800.10" stroke="#222" stroke-width="0.8"/>
<path d="M531.48,813.70 A262.19,257.30 0 0 1 413.78,843.36" fill="none" stroke="#38BAF5" stroke-width="3.4"/>
<line x1="532.19" y1="815.03" x2="533.62" y2="817.68" stroke="#222" stroke-width="0.8"/>
<line x1="513.93" y1="823.61" x2="514.54" y2="824.99" stroke="#222" stroke-width="0.8"/>
<line x1="495.06" y1="830.80" x2="495.56" y2="832.22" stroke="#222" stroke-width="0.8"/>
<line x1="475.68" y1="836.54" x2="476.06" y2="837.99" stroke="#222" stroke-width="0.8"/>
<line x1="455.90" y1="840.81" x2="456.17" y2="842.29" stroke="#222" stroke-width="0.8"/>
<line x1="435.85" y1="843.58" x2="436.16" y2="846.56" stroke="#222" stroke-width="0.8"/>
<line x1="415.64" y1="844.82" x2="415.68" y2="846.32" stroke="#222" stroke-width="0.8"/>
<path d="M406.00,843.38 A262.19,257.30 0 0 1 147.78,605.84" fill="none" stroke="#38BAF5" stroke-width="3.4"/>
<line x1="405.98" y1="844.88" x2="405.94" y2="847.88" stroke="#222" stroke-width="0.8"/>
<line x1="385.76" y1="843.88" x2="385.62" y2="845.37" stroke="#222" stroke-width="0.8"/>
<line x1="365.67" y1="841.35" x2="365.42" y2="842.83" stroke="#222" stroke-width="0.8"/>
<line x1="345.85" y1="837.32" x2="345.48" y2="838.78" stroke="#222" stroke-width="0.8"/>
<line x1="326.39" y1="831.81" x2="325.91" y2="833.24" stroke="#222" stroke-width="0.8"/>
<line x1="307.43" y1="824.85" x2="306.25" y2="827.62" stroke="#222" stroke-width="0.8"/>
<line x1="289.06" y1="816.49" x2="288.37" y2="817.82" stroke="#222" stroke-width="0.8"/>
<line x1="271.41" y1="806.76" x2="270.61" y2="808.04" stroke="#222" stroke-width="0.8"/>
<line x1="254.56" y1="795.74" x2="253.67" y2="796.95" stroke="#222" stroke-width="0.8"/>
<line x1="238.63" y1="783.48" x2="237.64" y2="784.62" stroke="#222" stroke-width="0.8"/>
<line x1="223.70" y1="770.05" x2="221.55" y2="772.19" stroke="#222" stroke-width="0.8"/>
<line x1="209.87" y1="755.55" x2="208.71" y2="756.53" stroke="#222" stroke-width="0.8"/>
<line x1="197.21" y1="740.04" x2="195.98" y2="740.93" stroke="#222" stroke-width="0.8"/>
<line x1="185.80" y1="723.63" x2="184.50" y2="724.42" stroke="#222" stroke-width="0.8"/>
<line x1="175.71" y1="706.40" x2="174.35" y2="707.10" stroke="#222" stroke-width="0.8"/>
<line x1="166.99" y1="688.47" x2="164.18" y2="689.65" stroke="#222" stroke-width="0.8"/>
<line x1="159.70" y1="669.93" x2="158.25" y2="670.42" stroke="#222" stroke-width="0.8"/>
<line x1="153.88" y1="650.90" x2="152.40" y2="651.27" stroke="#222" stroke-width="0.8"/>
<line x1="149.57" y1="631.48" x2="148.06" y2="631.75" stroke="#222" stroke-width="0.8"/>
<line x1="146.79" y1="611.80" x2="145.27" y2="611.95" stroke="#222" stroke-width="0.8"/>
<path d="M147.24,596.87 A262.19,257.30 0 0 1 401.65,328.91" fill="none" stroke="#38BAF5" stroke-width="3.4"/>
<line x1="145.71" y1="596.94" x2="142.66" y2="597.06" stroke="#222" stroke-width="0.8"/>
<line x1="145.64" y1="577.07" x2="144.12" y2="577.02" stroke="#222" stroke-width="0.8"/>
<line x1="147.13" y1="557.25" x2="145.61" y2="557.08" stroke="#222" stroke-width="0.8"/>
<line x1="150.15" y1="537.61" x2="148.65" y2="537.32" stroke="#222" stroke-width="0.8"/>
<line x1="154.71" y1="518.25" x2="153.23" y2="517.85" stroke="#222" stroke-width="0.8"/>
<line x1="160.76" y1="499.29" x2="157.88" y2="498.28" stroke="#222" stroke-width="0.8"/>
<line x1="168.28" y1="480.84" x2="166.89" y2="480.23" stroke="#222" stroke-width="0.8"/>
<line x1="177.22" y1="463.01" x2="175.88" y2="462.30" stroke="#222" stroke-width="0.8"/>
<line x1="187.53" y1="445.91" x2="186.24" y2="445.09" stroke="#222" stroke-width="0.8"/>
<line x1="199.14" y1="429.63" x2="197.92" y2="428.72" stroke="#222" stroke-width="0.8"/>
<line x1="211.99" y1="414.28" x2="209.71" y2="412.28" stroke="#222" stroke-width="0.8"/>
<line x1="226.01" y1="399.93" x2="224.94" y2="398.86" stroke="#222" stroke-width="0.8"/>
<line x1="241.10" y1="386.69" x2="240.13" y2="385.54" stroke="#222" stroke-width="0.8"/>
<line x1="257.18" y1="374.62" x2="256.30" y2="373.40" stroke="#222" stroke-width="0.8"/>
<line x1="274.17" y1="363.80" x2="273.38" y2="362.51" stroke="#222" stroke-width="0.8"/>
<line x1="291.94" y1="354.29" x2="290.58" y2="351.60" stroke="#222" stroke-width="0.8"/>
<line x1="310.41" y1="346.14" x2="309.84" y2="344.75" stroke="#222" stroke-width="0.8"/>
<line x1="329.46" y1="339.41" x2="329.00" y2="337.98" stroke="#222" stroke-width="0.8"/>
<line x1="348.98" y1="334.14" x2="348.63" y2="332.68" stroke="#222" stroke-width="0.8"/>
<line x1="368.86" y1="330.35" x2="368.62" y2="328.86" stroke="#222" stroke-width="0.8"/>
<line x1="388.97" y1="328.06" x2="388.73" y2="325.07" stroke="#222" stroke-width="0.8"/>
<text x="65.87" y="475.20" font-size="32.29" font-weight="bold" font-style="normal" fill="#5B9BD5" textLength="46.23" lengthAdjust="spacingAndGlyphs" >Cw</text>
<text x="45.50" y="511.90" font-size="32.03" font-weight="bold" font-style="normal" fill="#5B9BD5" textLength="84.28" lengthAdjust="spacingAndGlyphs" >Type1</text>
<text x="67.47" y="760.40" font-size="32.14" font-weight="bold" font-style="normal" fill="#5B9BD5" textLength="46.23" lengthAdjust="spacingAndGlyphs" >Cw</text>
<text x="47.09" y="796.90" font-size="31.74" font-weight="bold" font-style="normal" fill="#5B9BD5" textLength="88.50" lengthAdjust="spacingAndGlyphs" >Type2</text>
<text x="459.56" y="880.50" font-size="31.86" font-weight="bold" font-style="normal" fill="#5B9BD5" textLength="46.34" lengthAdjust="spacingAndGlyphs" >Cw</text>
<text x="439.19" y="916.90" font-size="31.74" font-weight="bold" font-style="normal" fill="#5B9BD5" textLength="88.34" lengthAdjust="spacingAndGlyphs" >Type3</text>
<text x="730.40" y="499.60" font-size="32.14" font-weight="bold" font-style="normal" fill="#002060" textLength="38.20" lengthAdjust="spacingAndGlyphs" >Ca</text>
<text x="705.80" y="535.90" font-size="31.74" font-weight="bold" font-style="normal" fill="#002060" textLength="84.28" lengthAdjust="spacingAndGlyphs" >Type1</text>
<text x="958.65" y="27.70" font-size="26.86" font-weight="bold" font-style="normal" fill="#000" textLength="39.35" lengthAdjust="spacingAndGlyphs" >Cw</text>
<text x="961.98" y="121.70" font-size="26.86" font-weight="bold" font-style="normal" fill="#000" textLength="32.45" lengthAdjust="spacingAndGlyphs" >Ca</text>
<rect x="1010.6" y="10.1" width="885.8000000000001" height="11.7" fill="url(#gDark)"/>
<rect x="1010.6" y="21.8" width="885.8000000000001" height="1.2" fill="#E6E3D6"/>
<rect x="1010.6" y="36.2" width="884.8000000000001" height="1.2" fill="#DAD8CC"/>
<rect x="1011.1" y="37.4" width="882.9" height="73.6" fill="#DCDCDC" stroke="#ABABAB" stroke-width="1"/>
<rect x="1010.6" y="125.6" width="883.9" height="1.6" fill="#D3D2C8"/>
<polygon points="1515.5,37.4 1651.9,37.4 1705.8,74.4" fill="#C6C6C6"/>
<polygon points="1515.5,111 1651.9,111 1705.8,74.4" fill="#C6C6C6"/>
<polygon points="1760.4,37.4 1893.5,37.4 1705.8,74.4" fill="#C6C6C6"/>
<polygon points="1758.2,111 1893.5,111 1705.8,74.4" fill="#C6C6C6"/>
<line x1="1515.5" y1="37.4" x2="1893.5" y2="111" stroke="#8E8E8E" stroke-width="1"/>
<line x1="1651.9" y1="37.4" x2="1758.2" y2="111" stroke="#8E8E8E" stroke-width="1"/>
<line x1="1760.4" y1="37.4" x2="1651.9" y2="111" stroke="#8E8E8E" stroke-width="1"/>
<line x1="1893.5" y1="37.4" x2="1515.5" y2="111" stroke="#8E8E8E" stroke-width="1"/>
<rect x="1366.2" y="37.4" width="3.8" height="73.6" fill="#8A8A8A" stroke="#5E5E5E" stroke-width="0.8"/>
<polygon points="1749.3,37.4 1767,37.4 1765,111 1747.6,111" fill="#B2B2B2" stroke="#7E7E7E" stroke-width="0.8"/>
<line x1="1756" y1="37.4" x2="1755" y2="111" stroke="#8E8E8E" stroke-width="0.8"/>
<rect x="1011.1" y="24.1" width="504.19999999999993" height="10.4" fill="#9DAEF7" stroke="#6A80EA" stroke-width="1"/>
<rect x="1516.3" y="24.1" width="135.10000000000014" height="10.4" fill="#F5D17E" stroke="#EFB13C" stroke-width="1"/>
<rect x="1652.4" y="24.1" width="107.5" height="10.4" fill="#9DAEF7" stroke="#6A80EA" stroke-width="1"/>
<rect x="1760.9" y="24.1" width="135.0" height="10.4" fill="#F5D17E" stroke="#EFB13C" stroke-width="1"/>
<rect x="1366.2" y="23.6" width="1.2" height="11.4" fill="#5068E0"/>
<rect x="1369.4" y="23.6" width="1.2" height="11.4" fill="#5068E0"/>
<rect x="1749.3" y="23.6" width="1.2" height="11.4" fill="#5068E0"/>
<rect x="1011.1" y="113.8" width="504.19999999999993" height="10.4" fill="#9DAEF7" stroke="#6A80EA" stroke-width="1"/>
<rect x="1516.3" y="113.8" width="135.10000000000014" height="10.4" fill="#F5D17E" stroke="#EFB13C" stroke-width="1"/>
<rect x="1652.4" y="113.8" width="105.29999999999995" height="10.4" fill="#9DAEF7" stroke="#6A80EA" stroke-width="1"/>
<rect x="1758.7" y="113.8" width="135.29999999999995" height="10.4" fill="#F5D17E" stroke="#EFB13C" stroke-width="1"/>
<rect x="1366.2" y="113.3" width="1.2" height="11.4" fill="#5068E0"/>
<rect x="1369.4" y="113.3" width="1.2" height="11.4" fill="#5068E0"/>
<rect x="1747.8" y="113.3" width="1.2" height="11.4" fill="#5068E0"/>
<line x1="104.00" y1="978.8" x2="104.00" y2="1494.0" stroke="#EBEBEB" stroke-width="1.4"/>
<line x1="147.95" y1="978.8" x2="147.95" y2="1494.0" stroke="#EBEBEB" stroke-width="1.0"/>
<line x1="191.90" y1="978.8" x2="191.90" y2="1494.0" stroke="#EBEBEB" stroke-width="1.4"/>
<line x1="235.85" y1="978.8" x2="235.85" y2="1494.0" stroke="#EBEBEB" stroke-width="1.0"/>
<line x1="279.80" y1="978.8" x2="279.80" y2="1494.0" stroke="#EBEBEB" stroke-width="1.4"/>
<line x1="323.75" y1="978.8" x2="323.75" y2="1494.0" stroke="#EBEBEB" stroke-width="1.0"/>
<line x1="367.70" y1="978.8" x2="367.70" y2="1494.0" stroke="#EBEBEB" stroke-width="1.4"/>
<line x1="411.65" y1="978.8" x2="411.65" y2="1494.0" stroke="#EBEBEB" stroke-width="1.0"/>
<line x1="455.60" y1="978.8" x2="455.60" y2="1494.0" stroke="#EBEBEB" stroke-width="1.4"/>
<line x1="499.55" y1="978.8" x2="499.55" y2="1494.0" stroke="#EBEBEB" stroke-width="1.0"/>
<line x1="543.50" y1="978.8" x2="543.50" y2="1494.0" stroke="#EBEBEB" stroke-width="1.4"/>
<line x1="587.45" y1="978.8" x2="587.45" y2="1494.0" stroke="#EBEBEB" stroke-width="1.0"/>
<line x1="631.40" y1="978.8" x2="631.40" y2="1494.0" stroke="#EBEBEB" stroke-width="1.4"/>
<line x1="675.35" y1="978.8" x2="675.35" y2="1494.0" stroke="#EBEBEB" stroke-width="1.0"/>
<line x1="76.4" y1="1470.40" x2="692.1" y2="1470.40" stroke="#EBEBEB" stroke-width="1.4"/>
<line x1="76.4" y1="1379.45" x2="692.1" y2="1379.45" stroke="#EBEBEB" stroke-width="1.0"/>
<line x1="76.4" y1="1288.50" x2="692.1" y2="1288.50" stroke="#EBEBEB" stroke-width="1.4"/>
<line x1="76.4" y1="1197.55" x2="692.1" y2="1197.55" stroke="#EBEBEB" stroke-width="1.0"/>
<line x1="76.4" y1="1106.60" x2="692.1" y2="1106.60" stroke="#EBEBEB" stroke-width="1.4"/>
<line x1="76.4" y1="1015.65" x2="692.1" y2="1015.65" stroke="#EBEBEB" stroke-width="1.0"/>
<path d="M104.0,1470.4 L104.0,1285.5 C104.72,1285.15 106.33,1281.93 108.30,1283.40 C110.27,1284.87 113.68,1290.40 115.80,1294.30 C117.92,1298.20 119.53,1302.30 121.00,1306.80 C122.47,1311.30 123.22,1316.98 124.60,1321.30 C125.98,1325.62 127.30,1328.72 129.30,1332.70 C131.30,1336.68 133.65,1340.87 136.60,1345.20 C139.55,1349.53 143.88,1354.37 147.00,1358.70 C150.12,1363.03 152.72,1367.22 155.30,1371.20 C157.88,1375.18 159.57,1377.93 162.50,1382.60 C165.43,1387.27 169.43,1394.35 172.90,1399.20 C176.37,1404.05 179.63,1407.52 183.30,1411.70 C186.97,1415.88 191.28,1420.10 194.90,1424.30 C198.52,1428.50 201.63,1433.28 205.00,1436.90 C208.37,1440.52 212.15,1444.05 215.10,1446.00 C218.05,1447.95 219.53,1449.00 222.70,1448.60 C225.87,1448.20 230.10,1444.92 234.10,1443.60 C238.10,1442.28 242.48,1440.33 246.70,1440.70 C250.92,1441.07 255.18,1443.27 259.40,1445.80 C263.62,1448.33 267.78,1453.17 272.00,1455.90 C276.22,1458.63 280.48,1460.10 284.70,1462.20 C288.92,1464.30 293.93,1467.13 297.30,1468.50 C300.67,1469.87 303.63,1470.08 304.90,1470.40 L304.9,1470.4 Z" fill="#A4E7BA"/>
<path d="M104.0,1470.4 L104.0,1430.6 C106.72,1430.18 114.85,1428.78 120.30,1428.10 C125.75,1427.42 130.38,1426.82 136.70,1426.50 C143.02,1426.18 151.45,1426.37 158.20,1426.20 C164.95,1426.03 171.08,1425.85 177.20,1425.50 C183.32,1425.15 187.52,1424.83 194.90,1424.10 C202.28,1423.37 212.87,1422.08 221.50,1421.10 C230.13,1420.12 239.18,1418.75 246.70,1418.20 C254.22,1417.65 260.27,1417.50 266.60,1417.80 C272.93,1418.10 279.57,1419.08 284.70,1420.00 C289.83,1420.92 291.33,1421.33 297.40,1423.30 C303.47,1425.27 313.20,1428.88 321.10,1431.80 C329.00,1434.72 336.90,1438.07 344.80,1440.80 C352.70,1443.53 360.58,1446.15 368.50,1448.20 C376.42,1450.25 384.38,1451.83 392.30,1453.10 C400.22,1454.37 406.13,1454.73 416.00,1455.80 C425.87,1456.87 441.63,1458.17 451.50,1459.50 C461.37,1460.83 467.30,1462.48 475.20,1463.80 C483.10,1465.12 490.98,1466.48 498.90,1467.40 C506.82,1468.32 512.82,1468.80 522.70,1469.30 C532.58,1469.80 546.35,1470.28 558.20,1470.40 C570.05,1470.52 581.95,1470.32 593.80,1470.00 C605.65,1469.68 617.65,1469.02 629.30,1468.50 C640.95,1467.98 657.97,1467.17 663.70,1466.90 L664.4,1466.9 L664.4,1470.4 Z" fill="#F9CFCE"/>
<path d="M104.0,1470.4 L104.0,1004.5 C104.10,1004.23 104.08,1001.75 104.60,1002.90 C105.12,1004.05 106.38,1007.60 107.10,1011.40 C107.82,1015.20 108.30,1019.75 108.90,1025.70 C109.50,1031.65 110.17,1039.95 110.70,1047.10 C111.23,1054.25 111.72,1060.62 112.10,1068.60 C112.48,1076.58 112.70,1086.23 113.00,1095.00 C113.30,1103.77 113.43,1109.92 113.90,1121.20 C114.37,1132.48 115.10,1148.85 115.80,1162.70 C116.50,1176.55 117.32,1189.75 118.10,1204.30 C118.88,1218.85 119.77,1235.52 120.50,1250.00 C121.23,1264.48 121.82,1279.32 122.50,1291.20 C123.18,1303.08 123.82,1310.92 124.60,1321.30 C125.38,1331.68 126.30,1343.22 127.20,1353.50 C128.10,1363.78 129.05,1373.32 130.00,1383.00 C130.95,1392.68 131.78,1403.67 132.90,1411.60 C134.02,1419.53 135.22,1424.90 136.70,1430.60 C138.18,1436.30 139.90,1441.38 141.80,1445.80 C143.70,1450.22 145.78,1453.95 148.10,1457.10 C150.42,1460.25 152.75,1462.62 155.70,1464.70 C158.65,1466.78 162.85,1468.65 165.80,1469.60 C168.75,1470.55 172.13,1470.27 173.40,1470.40 L246.7,1470.4 C248.82,1469.67 255.60,1467.75 259.40,1466.00 C263.20,1464.25 266.13,1461.27 269.50,1459.90 C272.87,1458.53 276.23,1457.63 279.60,1457.80 C282.97,1457.97 286.32,1459.32 289.70,1460.90 C293.08,1462.48 296.95,1465.72 299.90,1467.30 C302.85,1468.88 306.15,1469.88 307.40,1470.40 Z" fill="#C8DBFA"/>
<path d="M104.0,1470.4 L104.0,1430.6 C106.72,1430.18 114.85,1428.78 120.30,1428.10 C125.75,1427.42 130.38,1426.82 136.70,1426.50 C143.02,1426.18 151.45,1426.37 158.20,1426.20 C164.95,1426.03 171.08,1425.85 177.20,1425.50 C183.32,1425.15 187.52,1424.83 194.90,1424.10 C202.28,1423.37 212.87,1422.08 221.50,1421.10 C230.13,1420.12 239.18,1418.75 246.70,1418.20 C254.22,1417.65 260.27,1417.50 266.60,1417.80 C272.93,1418.10 279.57,1419.08 284.70,1420.00 C289.83,1420.92 291.33,1421.33 297.40,1423.30 C303.47,1425.27 313.20,1428.88 321.10,1431.80 C329.00,1434.72 336.90,1438.07 344.80,1440.80 C352.70,1443.53 360.58,1446.15 368.50,1448.20 C376.42,1450.25 384.38,1451.83 392.30,1453.10 C400.22,1454.37 406.13,1454.73 416.00,1455.80 C425.87,1456.87 441.63,1458.17 451.50,1459.50 C461.37,1460.83 467.30,1462.48 475.20,1463.80 C483.10,1465.12 490.98,1466.48 498.90,1467.40 C506.82,1468.32 512.82,1468.80 522.70,1469.30 C532.58,1469.80 546.35,1470.28 558.20,1470.40 C570.05,1470.52 581.95,1470.32 593.80,1470.00 C605.65,1469.68 617.65,1469.02 629.30,1468.50 C640.95,1467.98 657.97,1467.17 663.70,1466.90 L664.4,1466.9 L664.4,1470.4 Z" fill="#E0C6B6" clip-path="url(#dG)"/>
<path d="M104.0,1470.4 L104.0,1004.5 C104.10,1004.23 104.08,1001.75 104.60,1002.90 C105.12,1004.05 106.38,1007.60 107.10,1011.40 C107.82,1015.20 108.30,1019.75 108.90,1025.70 C109.50,1031.65 110.17,1039.95 110.70,1047.10 C111.23,1054.25 111.72,1060.62 112.10,1068.60 C112.48,1076.58 112.70,1086.23 113.00,1095.00 C113.30,1103.77 113.43,1109.92 113.90,1121.20 C114.37,1132.48 115.10,1148.85 115.80,1162.70 C116.50,1176.55 117.32,1189.75 118.10,1204.30 C118.88,1218.85 119.77,1235.52 120.50,1250.00 C121.23,1264.48 121.82,1279.32 122.50,1291.20 C123.18,1303.08 123.82,1310.92 124.60,1321.30 C125.38,1331.68 126.30,1343.22 127.20,1353.50 C128.10,1363.78 129.05,1373.32 130.00,1383.00 C130.95,1392.68 131.78,1403.67 132.90,1411.60 C134.02,1419.53 135.22,1424.90 136.70,1430.60 C138.18,1436.30 139.90,1441.38 141.80,1445.80 C143.70,1450.22 145.78,1453.95 148.10,1457.10 C150.42,1460.25 152.75,1462.62 155.70,1464.70 C158.65,1466.78 162.85,1468.65 165.80,1469.60 C168.75,1470.55 172.13,1470.27 173.40,1470.40 L246.7,1470.4 C248.82,1469.67 255.60,1467.75 259.40,1466.00 C263.20,1464.25 266.13,1461.27 269.50,1459.90 C272.87,1458.53 276.23,1457.63 279.60,1457.80 C282.97,1457.97 286.32,1459.32 289.70,1460.90 C293.08,1462.48 296.95,1465.72 299.90,1467.30 C302.85,1468.88 306.15,1469.88 307.40,1470.40 Z" fill="#AAD4E8" clip-path="url(#dG)"/>
<path d="M104.0,1470.4 L104.0,1004.5 C104.10,1004.23 104.08,1001.75 104.60,1002.90 C105.12,1004.05 106.38,1007.60 107.10,1011.40 C107.82,1015.20 108.30,1019.75 108.90,1025.70 C109.50,1031.65 110.17,1039.95 110.70,1047.10 C111.23,1054.25 111.72,1060.62 112.10,1068.60 C112.48,1076.58 112.70,1086.23 113.00,1095.00 C113.30,1103.77 113.43,1109.92 113.90,1121.20 C114.37,1132.48 115.10,1148.85 115.80,1162.70 C116.50,1176.55 117.32,1189.75 118.10,1204.30 C118.88,1218.85 119.77,1235.52 120.50,1250.00 C121.23,1264.48 121.82,1279.32 122.50,1291.20 C123.18,1303.08 123.82,1310.92 124.60,1321.30 C125.38,1331.68 126.30,1343.22 127.20,1353.50 C128.10,1363.78 129.05,1373.32 130.00,1383.00 C130.95,1392.68 131.78,1403.67 132.90,1411.60 C134.02,1419.53 135.22,1424.90 136.70,1430.60 C138.18,1436.30 139.90,1441.38 141.80,1445.80 C143.70,1450.22 145.78,1453.95 148.10,1457.10 C150.42,1460.25 152.75,1462.62 155.70,1464.70 C158.65,1466.78 162.85,1468.65 165.80,1469.60 C168.75,1470.55 172.13,1470.27 173.40,1470.40 L246.7,1470.4 C248.82,1469.67 255.60,1467.75 259.40,1466.00 C263.20,1464.25 266.13,1461.27 269.50,1459.90 C272.87,1458.53 276.23,1457.63 279.60,1457.80 C282.97,1457.97 286.32,1459.32 289.70,1460.90 C293.08,1462.48 296.95,1465.72 299.90,1467.30 C302.85,1468.88 306.15,1469.88 307.40,1470.40 Z" fill="#BECAEC" clip-path="url(#dP)"/>
<path d="M104.0,1285.5 C104.72,1285.15 106.33,1281.93 108.30,1283.40 C110.27,1284.87 113.68,1290.40 115.80,1294.30 C117.92,1298.20 119.53,1302.30 121.00,1306.80 C122.47,1311.30 123.22,1316.98 124.60,1321.30 C125.98,1325.62 127.30,1328.72 129.30,1332.70 C131.30,1336.68 133.65,1340.87 136.60,1345.20 C139.55,1349.53 143.88,1354.37 147.00,1358.70 C150.12,1363.03 152.72,1367.22 155.30,1371.20 C157.88,1375.18 159.57,1377.93 162.50,1382.60 C165.43,1387.27 169.43,1394.35 172.90,1399.20 C176.37,1404.05 179.63,1407.52 183.30,1411.70 C186.97,1415.88 191.28,1420.10 194.90,1424.30 C198.52,1428.50 201.63,1433.28 205.00,1436.90 C208.37,1440.52 212.15,1444.05 215.10,1446.00 C218.05,1447.95 219.53,1449.00 222.70,1448.60 C225.87,1448.20 230.10,1444.92 234.10,1443.60 C238.10,1442.28 242.48,1440.33 246.70,1440.70 C250.92,1441.07 255.18,1443.27 259.40,1445.80 C263.62,1448.33 267.78,1453.17 272.00,1455.90 C276.22,1458.63 280.48,1460.10 284.70,1462.20 C288.92,1464.30 293.93,1467.13 297.30,1468.50 C300.67,1469.87 303.63,1470.08 304.90,1470.40" stroke="#40507A" stroke-opacity="0.35" stroke-width="1.2" fill="none"/>
<path d="M124.6,1321.3 C125.38,1323.20 127.30,1328.72 129.30,1332.70 C131.30,1336.68 133.65,1340.87 136.60,1345.20 C139.55,1349.53 143.88,1354.37 147.00,1358.70 C150.12,1363.03 152.72,1367.22 155.30,1371.20 C157.88,1375.18 159.57,1377.93 162.50,1382.60 C165.43,1387.27 169.43,1394.35 172.90,1399.20 C176.37,1404.05 179.63,1407.52 183.30,1411.70 C186.97,1415.88 192.97,1422.20 194.90,1424.30" stroke="#111" stroke-width="1.6" fill="none" stroke-linejoin="round"/>
<path d="M104.0,1430.6 C106.72,1430.18 114.85,1428.78 120.30,1428.10 C125.75,1427.42 130.38,1426.82 136.70,1426.50 C143.02,1426.18 151.45,1426.37 158.20,1426.20 C164.95,1426.03 171.08,1425.85 177.20,1425.50 C183.32,1425.15 187.52,1424.83 194.90,1424.10 C202.28,1423.37 212.87,1422.08 221.50,1421.10 C230.13,1420.12 239.18,1418.75 246.70,1418.20 C254.22,1417.65 260.27,1417.50 266.60,1417.80 C272.93,1418.10 279.57,1419.08 284.70,1420.00 C289.83,1420.92 291.33,1421.33 297.40,1423.30 C303.47,1425.27 313.20,1428.88 321.10,1431.80 C329.00,1434.72 336.90,1438.07 344.80,1440.80 C352.70,1443.53 360.58,1446.15 368.50,1448.20 C376.42,1450.25 384.38,1451.83 392.30,1453.10 C400.22,1454.37 406.13,1454.73 416.00,1455.80 C425.87,1456.87 441.63,1458.17 451.50,1459.50 C461.37,1460.83 467.30,1462.48 475.20,1463.80 C483.10,1465.12 490.98,1466.48 498.90,1467.40 C506.82,1468.32 512.82,1468.80 522.70,1469.30 C532.58,1469.80 546.35,1470.28 558.20,1470.40 C570.05,1470.52 581.95,1470.32 593.80,1470.00 C605.65,1469.68 617.65,1469.02 629.30,1468.50 C640.95,1467.98 657.97,1467.17 663.70,1466.90" stroke="#40507A" stroke-opacity="0.35" stroke-width="1.2" fill="none"/>
<path d="M136.7,1426.5 C140.28,1426.45 151.45,1426.37 158.20,1426.20 C164.95,1426.03 171.08,1425.85 177.20,1425.50 C183.32,1425.15 187.52,1424.83 194.90,1424.10 C202.28,1423.37 212.87,1422.08 221.50,1421.10 C230.13,1420.12 239.18,1418.75 246.70,1418.20 C254.22,1417.65 260.27,1417.50 266.60,1417.80 C272.93,1418.10 279.57,1419.08 284.70,1420.00 C289.83,1420.92 291.33,1421.33 297.40,1423.30 C303.47,1425.27 313.20,1428.88 321.10,1431.80 C329.00,1434.72 336.90,1438.07 344.80,1440.80 C352.70,1443.53 360.58,1446.15 368.50,1448.20 C376.42,1450.25 384.38,1451.83 392.30,1453.10 C400.22,1454.37 406.13,1454.73 416.00,1455.80 C425.87,1456.87 441.63,1458.17 451.50,1459.50 C461.37,1460.83 467.30,1462.48 475.20,1463.80 C483.10,1465.12 490.98,1466.48 498.90,1467.40 C506.82,1468.32 512.82,1468.80 522.70,1469.30 C532.58,1469.80 546.35,1470.28 558.20,1470.40 C570.05,1470.52 581.95,1470.32 593.80,1470.00 C605.65,1469.68 617.65,1469.02 629.30,1468.50 C640.95,1467.98 657.97,1467.17 663.70,1466.90 L664.4,1466.9 L664.4,1470.4 L558,1470.4" stroke="#111" stroke-width="1.6" fill="none" stroke-linejoin="round"/>
<path d="M104.0,1470.4 L104.0,1004.5 C104.10,1004.23 104.08,1001.75 104.60,1002.90 C105.12,1004.05 106.38,1007.60 107.10,1011.40 C107.82,1015.20 108.30,1019.75 108.90,1025.70 C109.50,1031.65 110.17,1039.95 110.70,1047.10 C111.23,1054.25 111.72,1060.62 112.10,1068.60 C112.48,1076.58 112.70,1086.23 113.00,1095.00 C113.30,1103.77 113.43,1109.92 113.90,1121.20 C114.37,1132.48 115.10,1148.85 115.80,1162.70 C116.50,1176.55 117.32,1189.75 118.10,1204.30 C118.88,1218.85 119.77,1235.52 120.50,1250.00 C121.23,1264.48 121.82,1279.32 122.50,1291.20 C123.18,1303.08 123.82,1310.92 124.60,1321.30 C125.38,1331.68 126.30,1343.22 127.20,1353.50 C128.10,1363.78 129.05,1373.32 130.00,1383.00 C130.95,1392.68 131.78,1403.67 132.90,1411.60 C134.02,1419.53 135.22,1424.90 136.70,1430.60 C138.18,1436.30 139.90,1441.38 141.80,1445.80 C143.70,1450.22 145.78,1453.95 148.10,1457.10 C150.42,1460.25 152.75,1462.62 155.70,1464.70 C158.65,1466.78 162.85,1468.65 165.80,1469.60 C168.75,1470.55 172.13,1470.27 173.40,1470.40 L246.7,1470.4 C248.82,1469.67 255.60,1467.75 259.40,1466.00 C263.20,1464.25 266.13,1461.27 269.50,1459.90 C272.87,1458.53 276.23,1457.63 279.60,1457.80 C282.97,1457.97 286.32,1459.32 289.70,1460.90 C293.08,1462.48 296.95,1465.72 299.90,1467.30 C302.85,1468.88 306.15,1469.88 307.40,1470.40 L104.0,1470.4" stroke="#111" stroke-width="1.6" fill="none" stroke-linejoin="round"/>
<polygon points="103.10000000000001,1488.9 119.7,1488.9 111.4,1472.8" fill="#B0CEFF" stroke="#000" stroke-width="1.7" stroke-linejoin="miter"/>
<polygon points="140.2,1488.9 156.8,1488.9 148.5,1472.8" fill="#7FDC9B" stroke="#000" stroke-width="1.7" stroke-linejoin="miter"/>
<polygon points="258.9,1488.9 275.5,1488.9 267.2,1472.8" fill="#E9C3C1" stroke="#000" stroke-width="1.7" stroke-linejoin="miter"/>
<path d="M76.4,978.8 L692.1,978.8 L692.1,1494.0 L76.4,1494.0 Z" fill="none" stroke="#333" stroke-width="1.3"/>
<line x1="104.00" y1="1494.0" x2="104.00" y2="1497.8" stroke="#333" stroke-width="1.2"/>
<text x="104.00" y="1506.9" font-size="11.2" fill="#4D4D4D" text-anchor="middle">0.00</text>
<line x1="191.90" y1="1494.0" x2="191.90" y2="1497.8" stroke="#333" stroke-width="1.2"/>
<text x="191.90" y="1506.9" font-size="11.2" fill="#4D4D4D" text-anchor="middle">0.02</text>
<line x1="279.80" y1="1494.0" x2="279.80" y2="1497.8" stroke="#333" stroke-width="1.2"/>
<text x="279.80" y="1506.9" font-size="11.2" fill="#4D4D4D" text-anchor="middle">0.04</text>
<line x1="367.70" y1="1494.0" x2="367.70" y2="1497.8" stroke="#333" stroke-width="1.2"/>
<text x="367.70" y="1506.9" font-size="11.2" fill="#4D4D4D" text-anchor="middle">0.06</text>
<line x1="455.60" y1="1494.0" x2="455.60" y2="1497.8" stroke="#333" stroke-width="1.2"/>
<text x="455.60" y="1506.9" font-size="11.2" fill="#4D4D4D" text-anchor="middle">0.08</text>
<line x1="543.50" y1="1494.0" x2="543.50" y2="1497.8" stroke="#333" stroke-width="1.2"/>
<text x="543.50" y="1506.9" font-size="11.2" fill="#4D4D4D" text-anchor="middle">0.10</text>
<line x1="631.40" y1="1494.0" x2="631.40" y2="1497.8" stroke="#333" stroke-width="1.2"/>
<text x="631.40" y="1506.9" font-size="11.2" fill="#4D4D4D" text-anchor="middle">0.12</text>
<line x1="73.0" y1="1470.40" x2="76.4" y2="1470.40" stroke="#333" stroke-width="1.2"/>
<text x="71.2" y="1474.40" font-size="11.2" fill="#4D4D4D" text-anchor="end">0</text>
<line x1="73.0" y1="1288.50" x2="76.4" y2="1288.50" stroke="#333" stroke-width="1.2"/>
<text x="71.2" y="1292.50" font-size="11.2" fill="#4D4D4D" text-anchor="end">50</text>
<line x1="73.0" y1="1106.60" x2="76.4" y2="1106.60" stroke="#333" stroke-width="1.2"/>
<text x="71.2" y="1110.60" font-size="11.2" fill="#4D4D4D" text-anchor="end">100</text>
<text x="344.69" y="1538.60" font-size="31.74" font-weight="bold" font-style="normal" fill="#000" textLength="127.09" lengthAdjust="spacingAndGlyphs" >Ks value</text>
<g transform="translate(35.4,1287.7) rotate(-90)"><text x="-1.99" y="0.00" font-size="31.74" font-weight="bold" font-style="normal" fill="#000" textLength="110.62" lengthAdjust="spacingAndGlyphs" >Density</text></g>
<text x="197.5" y="1015.5" font-size="23" font-family="Noto Sans CJK JP, sans-serif" fill="#000">※</text>
<text x="234.15" y="1015.90" font-size="26.43" font-weight="bold" font-style="normal" fill="#000" >Cw Mt = Ca Mt (Identical CDS)</text>
<text x="235.75" y="1051.90" font-size="26.57" font-weight="bold" font-style="normal" fill="#000" textLength="184.47" lengthAdjust="spacingAndGlyphs" >Cw Pt vs Ca Pt</text>
<text x="235.74" y="1089.00" font-size="26.57" font-weight="bold" font-style="normal" fill="#000" textLength="276.54" lengthAdjust="spacingAndGlyphs" >Cw MTPT vs Ca MTPT</text>
<text x="236.28" y="1126.00" font-size="26.81" font-weight="bold" font-style="normal" fill="#000" textLength="142.88" lengthAdjust="spacingAndGlyphs" >Pt vs MTPT</text>
<rect x="195.85" y="1030.55" width="24.900000000000002" height="23.8" fill="#7FDC9B" stroke="#000" stroke-width="2.9"/>
<rect x="195.85" y="1068.3500000000001" width="24.900000000000002" height="23.8" fill="#B0CEFF" stroke="#000" stroke-width="2.9"/>
<rect x="195.85" y="1107.75" width="24.900000000000002" height="23.8" fill="#E9C3C1" stroke="#000" stroke-width="2.9"/>
<text x="127.63" y="1213.90" font-size="23.77" font-weight="bold" font-style="normal" fill="#2E75B6" textLength="54.16" lengthAdjust="spacingAndGlyphs" >0.001</text>
<text x="154.87" y="1361.00" font-size="23.62" font-weight="bold" font-style="normal" fill="#548235" textLength="123.62" lengthAdjust="spacingAndGlyphs" >0.006-0.012</text>
<text x="259.78" y="1410.00" font-size="23.33" font-weight="bold" font-style="normal" fill="#C00000" textLength="123.30" lengthAdjust="spacingAndGlyphs" >0.037-0.049</text>
<rect x="1774.20" y="1089.00" width="10.10" height="102.00" fill="#000"/>
<rect x="1460.00" y="1141.70" width="324.30" height="10.20" fill="#000"/>
<rect x="1454.40" y="1141.70" width="10.60" height="185.50" fill="#000"/>
<rect x="1454.40" y="1317.20" width="330.20" height="10.10" fill="#000"/>
<rect x="1171.80" y="1227.00" width="293.20" height="10.40" fill="#000"/>
<rect x="1171.80" y="1227.00" width="10.50" height="239.60" fill="#000"/>
<rect x="1171.80" y="1455.00" width="612.80" height="11.40" fill="#000"/>
<rect x="1022.40" y="1340.90" width="159.60" height="9.80" fill="#000"/>
<rect x="1718.40" y="1079.10" width="65.90" height="9.90" fill="#5B9C5B"/>
<rect x="1718.40" y="1191.00" width="65.90" height="9.90" fill="#5B9C5B"/>
<rect x="1718.40" y="1079.10" width="11.40" height="121.80" fill="#5B9C5B"/>
<rect x="1485.90" y="1138.70" width="243.90" height="9.40" fill="#5B9C5B"/>
<rect x="1485.90" y="1138.70" width="10.60" height="184.70" fill="#5B9C5B"/>
<rect x="1485.90" y="1313.80" width="298.70" height="9.60" fill="#5B9C5B"/>
<rect x="1094.80" y="1224.20" width="401.70" height="9.50" fill="#5B9C5B"/>
<rect x="1094.80" y="1224.20" width="10.60" height="238.70" fill="#5B9C5B"/>
<rect x="1094.80" y="1453.60" width="689.80" height="9.60" fill="#5B9C5B"/>
<polygon points="1504.9,1111.7 1521.2,1111.7 1513.0,1135.4" fill="#FF0000"/>
<rect x="1089.20" y="1484.60" width="697.80" height="2.10" fill="#000"/>
<rect x="1122.10" y="1485.00" width="2.40" height="18.20" fill="#000"/>
<text x="1111.35" y="1528.30" font-size="20.80" font-weight="bold" font-style="normal" fill="#000" textLength="23.73" lengthAdjust="spacingAndGlyphs" >25</text>
<rect x="1254.60" y="1485.00" width="2.40" height="18.20" fill="#000"/>
<text x="1243.84" y="1528.30" font-size="20.80" font-weight="bold" font-style="normal" fill="#000" textLength="24.07" lengthAdjust="spacingAndGlyphs" >20</text>
<rect x="1387.10" y="1485.00" width="2.40" height="18.20" fill="#000"/>
<text x="1375.79" y="1528.30" font-size="20.80" font-weight="bold" font-style="normal" fill="#000" textLength="24.31" lengthAdjust="spacingAndGlyphs" >15</text>
<rect x="1519.60" y="1485.00" width="2.40" height="18.20" fill="#000"/>
<text x="1508.27" y="1528.30" font-size="20.80" font-weight="bold" font-style="normal" fill="#000" textLength="24.67" lengthAdjust="spacingAndGlyphs" >10</text>
<rect x="1652.10" y="1485.00" width="2.40" height="18.20" fill="#000"/>
<text x="1647.20" y="1528.30" font-size="20.80" font-weight="bold" font-style="normal" fill="#000" textLength="12.12" lengthAdjust="spacingAndGlyphs" >5</text>
<rect x="1784.60" y="1485.00" width="2.40" height="18.20" fill="#000"/>
<rect x="987.40" y="1086.90" width="63.60" height="10.00" fill="#006B00"/>
<rect x="987.40" y="1123.30" width="63.60" height="10.50" fill="#000"/>
<text x="1056.59" y="1102.40" font-size="29.57" font-weight="bold" font-style="normal" fill="#000" textLength="29.35" lengthAdjust="spacingAndGlyphs" >Pt</text>
<text x="1055.90" y="1142.00" font-size="29.71" font-weight="bold" font-style="normal" fill="#000" textLength="34.13" lengthAdjust="spacingAndGlyphs" >Mt</text>
<text x="1616.53" y="1126.50" font-size="30.14" font-weight="bold" font-style="normal" fill="#107A10" textLength="91.85" lengthAdjust="spacingAndGlyphs" >1.5-3.0</text>
<text x="1500.42" y="1210.70" font-size="30.14" font-weight="bold" font-style="normal" fill="#107A10" textLength="108.04" lengthAdjust="spacingAndGlyphs" >7.5-15.0</text>
<text x="1320.93" y="1261.90" font-size="30.58" font-weight="bold" font-style="normal" fill="#000" textLength="124.98" lengthAdjust="spacingAndGlyphs" >10.0-15.0</text>
<text x="958.37" y="1333.80" font-size="28.99" font-weight="bold" font-style="normal" fill="#107A10" textLength="123.92" lengthAdjust="spacingAndGlyphs" >22.5-30.0</text>
<text x="1187.33" y="1375.20" font-size="29.42" font-weight="bold" font-style="normal" fill="#000" textLength="124.77" lengthAdjust="spacingAndGlyphs" >17.5-29.2</text>
<text x="1802.00" y="1102.30" font-size="55.00" font-weight="bold" font-style="normal" fill="#000" textLength="78.80" lengthAdjust="spacingAndGlyphs" >Cw</text>
<text x="1802.07" y="1202.40" font-size="55.29" font-weight="bold" font-style="normal" fill="#000" textLength="64.89" lengthAdjust="spacingAndGlyphs" >Ca</text>
<text x="1801.39" y="1330.70" font-size="51.74" font-weight="bold" font-style="normal" fill="#000" textLength="66.77" lengthAdjust="spacingAndGlyphs" >As</text>
<text x="1801.66" y="1459.00" font-size="52.32" font-weight="bold" font-style="normal" fill="#000" textLength="67.74" lengthAdjust="spacingAndGlyphs" >Rs</text>
<text x="1176.20" y="241.30" font-size="39.14" font-weight="bold" font-style="italic" fill="#000" textLength="194.07" lengthAdjust="spacingAndGlyphs" >C. wilfordii</text>
<text x="1381.24" y="241.30" font-size="39.13" font-weight="bold" font-style="normal" fill="#000" textLength="193.25" lengthAdjust="spacingAndGlyphs" >Pt genome</text>
<text x="1154.80" y="975.80" font-size="38.29" font-weight="bold" font-style="italic" fill="#000" textLength="263.55" lengthAdjust="spacingAndGlyphs" >C. auriculatum</text>
<text x="1426.40" y="975.80" font-size="38.26" font-weight="bold" font-style="normal" fill="#000" textLength="202.76" lengthAdjust="spacingAndGlyphs" >Mt genome</text>
<path d="M1207.92,399.23 A266.00,266.00 0 0 1 1214.16,394.21 Q1350.52,574.80 1157.82,405.84 A296.00,296.00 0 0 1 1163.25,399.97 Q1350.47,574.85 1207.92,399.23 Z" fill="#9ECCFA"/>
<path d="M1249.40,370.99 A266.00,266.00 0 0 1 1253.80,368.62 Q1349.31,579.86 1097.03,509.98 A296.00,296.00 0 0 1 1098.99,504.31 Q1349.33,579.84 1249.40,370.99 Z" fill="#9ECCFA"/>
<path d="M1261.57,364.69 A266.00,266.00 0 0 1 1271.57,360.09 Q1379.65,602.98 1533.14,855.90 A296.00,296.00 0 0 1 1527.14,859.51 Q1379.64,602.96 1261.57,364.69 Z" fill="#9ECCFA"/>
<path d="M1326.98,342.88 A266.00,266.00 0 0 1 1338.81,340.86 Q1383.88,601.88 1523.31,861.71 A296.00,296.00 0 0 1 1514.52,866.48 Q1383.87,601.84 1326.98,342.88 Z" fill="#9ECCFA"/>
<path d="M1311.34,346.41 A266.00,266.00 0 0 1 1317.17,344.98 Q1380.10,603.25 1486.11,879.43 A296.00,296.00 0 0 1 1481.44,881.23 Q1380.10,603.25 1311.34,346.41 Z" fill="#9ECCFA"/>
<path d="M1358.93,338.66 A266.00,266.00 0 0 1 1364.92,338.31 Q1373.94,603.87 1342.55,897.91 A296.00,296.00 0 0 1 1336.60,897.13 Q1373.94,603.87 1358.93,338.66 Z" fill="#9ECCFA"/>
<path d="M1467.43,353.59 A266.00,266.00 0 0 1 1477.71,357.52 Q1382.94,605.26 1352.33,898.91 A296.00,296.00 0 0 1 1347.36,898.44 Q1382.96,605.20 1467.43,353.59 Z" fill="#9ECCFA"/>
<path d="M1481.96,359.29 A266.00,266.00 0 0 1 1496.48,366.00 Q1385.83,605.90 1379.08,900.00 A296.00,296.00 0 0 1 1369.08,899.87 Q1385.86,605.79 1481.96,359.29 Z" fill="#9ECCFA"/>
<path d="M1554.73,405.47 A266.00,266.00 0 0 1 1562.07,412.26 Q1390.01,609.35 1361.61,899.56 A296.00,296.00 0 0 1 1356.62,899.25 Q1390.06,609.22 1554.73,405.47 Z" fill="#9ECCFA"/>
<path d="M1295.84,350.91 A266.00,266.00 0 0 1 1298.70,350.00 Q1362.33,602.62 1240.98,866.53 A296.00,296.00 0 0 1 1238.32,865.13 Q1362.32,602.63 1295.84,350.91 Z" fill="#9ECCFA"/>
<path d="M1397.39,338.73 A266.00,266.00 0 0 1 1404.37,339.34 Q1362.43,573.69 1123.35,452.61 A296.00,296.00 0 0 1 1125.15,449.61 Q1362.21,573.80 1397.39,338.73 Z" fill="#9ECCFA"/>
<path d="M1412.77,340.32 A266.00,266.00 0 0 1 1415.75,340.73 Q1364.04,572.79 1133.78,436.32 A296.00,296.00 0 0 1 1134.92,434.67 Q1363.97,572.82 1412.77,340.32 Z" fill="#9ECCFA"/>
<path d="M1453.97,349.17 A266.00,266.00 0 0 1 1458.74,350.65 Q1403.62,584.59 1673.61,596.85 A296.00,296.00 0 0 1 1673.69,601.85 Q1403.60,584.57 1453.97,349.17 Z" fill="#9ECCFA"/>
<path d="M1514.03,375.59 A266.00,266.00 0 0 1 1516.17,376.88 Q1407.37,581.88 1663.90,528.47 A296.00,296.00 0 0 1 1665.14,533.31 Q1407.45,581.99 1514.03,375.59 Z" fill="#9ECCFA"/>
<path d="M1221.84,388.45 A266.00,266.00 0 0 1 1223.87,386.99 Q1379.07,602.92 1571.47,827.77 A296.00,296.00 0 0 1 1569.19,829.72 Q1379.07,602.92 1221.84,388.45 Z" fill="#9ECCFA"/>
<path d="M1240.03,376.40 A266.00,266.00 0 0 1 1242.17,375.12 Q1373.77,605.80 1472.57,884.38 A296.00,296.00 0 0 1 1470.67,885.02 Q1373.78,605.81 1240.03,376.40 Z" fill="#9ECCFA"/>
<path d="M1507.81,371.99 A266.00,266.00 0 0 1 1509.55,372.98 Q1406.97,591.37 1665.39,673.63 A296.00,296.00 0 0 1 1664.92,675.58 Q1406.97,591.36 1507.81,371.99 Z" fill="#9ECCFA"/>
<path d="M1519.78,379.12 A266.00,266.00 0 0 1 1521.46,380.20 Q1408.04,591.02 1668.30,660.28 A296.00,296.00 0 0 1 1667.61,663.72 Q1408.07,591.08 1519.78,379.12 Z" fill="#9ECCFA"/>
<path d="M1422.91,341.87 A266.00,266.00 0 0 1 1424.87,342.22 Q1399.35,576.00 1646.42,479.89 A296.00,296.00 0 0 1 1647.67,482.62 Q1399.39,576.02 1422.91,341.87 Z" fill="#9ECCFA"/>
<path d="M1278.05,357.37 Q1350.21,585.67 1081.72,607.10" fill="none" stroke="#9ECCFA" stroke-opacity="0.6" stroke-width="1.2"/>
<path d="M1286.72,354.04 Q1351.39,589.77 1089.52,671.59" fill="none" stroke="#9ECCFA" stroke-opacity="0.35" stroke-width="1.5"/>
<path d="M1291.10,352.49 Q1352.74,592.81 1104.63,718.23" fill="none" stroke="#9ECCFA" stroke-opacity="0.35" stroke-width="1.5"/>
<path d="M1282.37,355.67 Q1359.61,602.08 1216.05,851.96" fill="none" stroke="#9ECCFA" stroke-opacity="0.35" stroke-width="1.0"/>
<path d="M1304.38,348.30 Q1364.89,603.40 1269.70,879.59" fill="none" stroke="#9ECCFA" stroke-opacity="0.4" stroke-width="1.2"/>
<path d="M1530.27,386.11 Q1406.06,576.90 1627.62,445.40" fill="none" stroke="#9ECCFA" stroke-opacity="0.4" stroke-width="1.2"/>
<path d="M1349.90,339.46 Q1357.48,575.66 1109.43,478.90" fill="none" stroke="#9ECCFA" stroke-opacity="0.3" stroke-width="1.2"/>
<path d="M1377.70,338.00 Q1362.38,596.86 1150.95,794.27" fill="none" stroke="#9ECCFA" stroke-opacity="0.3" stroke-width="1.0"/>
<path d="M1423.89,342.04 Q1363.85,594.30 1121.36,752.00" fill="none" stroke="#9ECCFA" stroke-opacity="0.35" stroke-width="1.0"/>
<path d="M1446.55,347.06 Q1377.70,604.00 1301.09,889.91" fill="none" stroke="#9ECCFA" stroke-opacity="0.3" stroke-width="1.0"/>
<path d="M1502.58,369.14 Q1406.22,580.49 1660.77,517.46" fill="none" stroke="#9ECCFA" stroke-opacity="0.5" stroke-width="1.2"/>
<path d="M1537.78,391.56 Q1408.53,594.87 1655.85,705.24" fill="none" stroke="#9ECCFA" stroke-opacity="0.35" stroke-width="1.0"/>
<path d="M1331.51,342.04 Q1391.55,594.30 1634.04,752.00" fill="none" stroke="#9ECCFA" stroke-opacity="0.35" stroke-width="1.0"/>
<path d="M1386.98,338.16 Q1393.72,596.87 1604.45,794.27" fill="none" stroke="#9ECCFA" stroke-opacity="0.35" stroke-width="1.0"/>
<path d="M1265.28,362.92 Q1349.55,589.35 1086.20,655.40" fill="none" stroke="#9ECCFA" stroke-opacity="0.3" stroke-width="1.0"/>
<path d="M1248.74,371.35 Q1371.48,606.20 1429.10,895.50" fill="none" stroke="#9ECCFA" stroke-opacity="0.4" stroke-width="1.0"/>
<path d="M1622.95,427.77 A302.00,302.00 0 1 1 1167.16,387.49" fill="none" stroke="#0A0ACD" stroke-width="2.4"/>
<line x1="1623.76" y1="427.19" x2="1630.26" y2="422.52" stroke="#555" stroke-width="0.9"/>
<text x="1633.51" y="420.18" font-size="7" fill="#666" text-anchor="start" dominant-baseline="middle" transform="rotate(-35.7 1633.51 420.18)">0</text>
<line x1="1636.19" y1="445.91" x2="1638.75" y2="444.34" stroke="#555" stroke-width="1.0"/>
<line x1="1647.19" y1="465.50" x2="1649.86" y2="464.13" stroke="#555" stroke-width="1.0"/>
<line x1="1656.72" y1="485.85" x2="1659.48" y2="484.68" stroke="#555" stroke-width="1.0"/>
<line x1="1664.70" y1="506.85" x2="1667.55" y2="505.89" stroke="#555" stroke-width="1.0"/>
<line x1="1671.11" y1="528.39" x2="1678.86" y2="526.39" stroke="#555" stroke-width="0.9"/>
<text x="1682.74" y="525.40" font-size="7" fill="#666" text-anchor="start" dominant-baseline="middle" transform="rotate(-14.5 1682.74 525.40)">50</text>
<line x1="1675.91" y1="550.34" x2="1678.86" y2="549.81" stroke="#555" stroke-width="1.0"/>
<line x1="1679.07" y1="572.59" x2="1682.05" y2="572.28" stroke="#555" stroke-width="1.0"/>
<line x1="1680.57" y1="595.01" x2="1683.57" y2="594.92" stroke="#555" stroke-width="1.0"/>
<line x1="1680.40" y1="617.48" x2="1683.40" y2="617.61" stroke="#555" stroke-width="1.0"/>
<line x1="1678.57" y1="639.88" x2="1686.51" y2="640.82" stroke="#555" stroke-width="0.9"/>
<text x="1690.48" y="641.30" font-size="7" fill="#666" text-anchor="start" dominant-baseline="middle" transform="rotate(6.8 1690.48 641.30)">100</text>
<line x1="1675.08" y1="662.07" x2="1678.03" y2="662.65" stroke="#555" stroke-width="1.0"/>
<line x1="1669.96" y1="683.95" x2="1672.85" y2="684.75" stroke="#555" stroke-width="1.0"/>
<line x1="1663.23" y1="705.39" x2="1666.06" y2="706.40" stroke="#555" stroke-width="1.0"/>
<line x1="1654.93" y1="726.27" x2="1657.68" y2="727.48" stroke="#555" stroke-width="1.0"/>
<line x1="1645.11" y1="746.48" x2="1652.17" y2="750.25" stroke="#555" stroke-width="0.9"/>
<text x="1655.70" y="752.13" font-size="7" fill="#666" text-anchor="start" dominant-baseline="middle" transform="rotate(28.0 1655.70 752.13)">150</text>
<line x1="1633.81" y1="765.91" x2="1636.35" y2="767.51" stroke="#555" stroke-width="1.0"/>
<line x1="1621.11" y1="784.44" x2="1623.52" y2="786.23" stroke="#555" stroke-width="1.0"/>
<line x1="1607.07" y1="801.99" x2="1609.34" y2="803.95" stroke="#555" stroke-width="1.0"/>
<line x1="1591.77" y1="818.44" x2="1593.89" y2="820.56" stroke="#555" stroke-width="1.0"/>
<line x1="1575.29" y1="833.71" x2="1580.50" y2="839.78" stroke="#555" stroke-width="0.9"/>
<text x="1583.11" y="842.81" font-size="7" fill="#666" text-anchor="start" dominant-baseline="middle" transform="rotate(49.3 1583.11 842.81)">200</text>
<line x1="1557.72" y1="847.73" x2="1559.50" y2="850.14" stroke="#555" stroke-width="1.0"/>
<line x1="1539.16" y1="860.40" x2="1540.76" y2="862.94" stroke="#555" stroke-width="1.0"/>
<line x1="1519.72" y1="871.66" x2="1521.12" y2="874.31" stroke="#555" stroke-width="1.0"/>
<line x1="1499.49" y1="881.45" x2="1500.70" y2="884.19" stroke="#555" stroke-width="1.0"/>
<line x1="1478.59" y1="889.71" x2="1481.26" y2="897.25" stroke="#555" stroke-width="0.9"/>
<text x="1482.59" y="901.02" font-size="7" fill="#666" text-anchor="start" dominant-baseline="middle" transform="rotate(70.5 1482.59 901.02)">250</text>
<line x1="1457.14" y1="896.40" x2="1457.93" y2="899.30" stroke="#555" stroke-width="1.0"/>
<line x1="1435.26" y1="901.48" x2="1435.83" y2="904.43" stroke="#555" stroke-width="1.0"/>
<line x1="1413.05" y1="904.93" x2="1413.40" y2="907.91" stroke="#555" stroke-width="1.0"/>
<line x1="1390.65" y1="906.72" x2="1390.78" y2="909.72" stroke="#555" stroke-width="1.0"/>
<line x1="1368.18" y1="906.85" x2="1367.93" y2="914.85" stroke="#555" stroke-width="0.9"/>
<text x="1367.81" y="918.84" font-size="7" fill="#666" text-anchor="end" dominant-baseline="middle" transform="rotate(-88.2 1367.81 918.84)">300</text>
<line x1="1345.76" y1="905.31" x2="1345.45" y2="908.30" stroke="#555" stroke-width="1.0"/>
<line x1="1323.52" y1="902.12" x2="1322.99" y2="905.07" stroke="#555" stroke-width="1.0"/>
<line x1="1301.58" y1="897.28" x2="1300.83" y2="900.19" stroke="#555" stroke-width="1.0"/>
<line x1="1280.05" y1="890.83" x2="1279.09" y2="893.67" stroke="#555" stroke-width="1.0"/>
<line x1="1259.07" y1="882.81" x2="1255.93" y2="890.17" stroke="#555" stroke-width="0.9"/>
<text x="1254.37" y="893.85" font-size="7" fill="#666" text-anchor="end" dominant-baseline="middle" transform="rotate(-67.0 1254.37 893.85)">350</text>
<line x1="1238.73" y1="873.25" x2="1237.35" y2="875.92" stroke="#555" stroke-width="1.0"/>
<line x1="1219.16" y1="862.21" x2="1217.59" y2="864.77" stroke="#555" stroke-width="1.0"/>
<line x1="1200.46" y1="849.75" x2="1198.70" y2="852.19" stroke="#555" stroke-width="1.0"/>
<line x1="1182.73" y1="835.94" x2="1180.80" y2="838.24" stroke="#555" stroke-width="1.0"/>
<line x1="1166.08" y1="820.85" x2="1160.49" y2="826.58" stroke="#555" stroke-width="0.9"/>
<text x="1157.70" y="829.44" font-size="7" fill="#666" text-anchor="end" dominant-baseline="middle" transform="rotate(-45.7 1157.70 829.44)">400</text>
<line x1="1150.59" y1="804.58" x2="1148.34" y2="806.56" stroke="#555" stroke-width="1.0"/>
<line x1="1136.35" y1="787.19" x2="1133.96" y2="789.01" stroke="#555" stroke-width="1.0"/>
<line x1="1123.44" y1="768.80" x2="1120.92" y2="770.44" stroke="#555" stroke-width="1.0"/>
<line x1="1111.92" y1="749.51" x2="1109.29" y2="750.95" stroke="#555" stroke-width="1.0"/>
<line x1="1101.87" y1="729.41" x2="1094.59" y2="732.72" stroke="#555" stroke-width="0.9"/>
<text x="1090.95" y="734.38" font-size="7" fill="#666" text-anchor="end" dominant-baseline="middle" transform="rotate(-24.4 1090.95 734.38)">450</text>
<line x1="1093.34" y1="708.63" x2="1090.52" y2="709.66" stroke="#555" stroke-width="1.0"/>
<line x1="1086.36" y1="687.26" x2="1083.48" y2="688.09" stroke="#555" stroke-width="1.0"/>
<line x1="1081.00" y1="665.44" x2="1078.06" y2="666.05" stroke="#555" stroke-width="1.0"/>
<line x1="1077.26" y1="643.29" x2="1074.28" y2="643.68" stroke="#555" stroke-width="1.0"/>
<line x1="1075.17" y1="620.91" x2="1067.18" y2="621.36" stroke="#555" stroke-width="0.9"/>
<text x="1063.19" y="621.58" font-size="7" fill="#666" text-anchor="end" dominant-baseline="middle" transform="rotate(-3.2 1063.19 621.58)">500</text>
<line x1="1074.75" y1="598.45" x2="1071.75" y2="598.39" stroke="#555" stroke-width="1.0"/>
<line x1="1076.00" y1="576.01" x2="1073.01" y2="575.73" stroke="#555" stroke-width="1.0"/>
<line x1="1078.90" y1="553.73" x2="1075.94" y2="553.23" stroke="#555" stroke-width="1.0"/>
<line x1="1083.45" y1="531.72" x2="1080.53" y2="531.01" stroke="#555" stroke-width="1.0"/>
<line x1="1089.61" y1="510.12" x2="1082.01" y2="507.64" stroke="#555" stroke-width="0.9"/>
<text x="1078.20" y="506.40" font-size="7" fill="#666" text-anchor="end" dominant-baseline="middle" transform="rotate(18.1 1078.20 506.40)">550</text>
<line x1="1097.36" y1="489.02" x2="1094.59" y2="487.89" stroke="#555" stroke-width="1.0"/>
<line x1="1106.65" y1="468.57" x2="1103.97" y2="467.22" stroke="#555" stroke-width="1.0"/>
<line x1="1117.44" y1="448.85" x2="1114.86" y2="447.31" stroke="#555" stroke-width="1.0"/>
<line x1="1129.65" y1="429.99" x2="1127.19" y2="428.27" stroke="#555" stroke-width="1.0"/>
<line x1="1143.23" y1="412.09" x2="1137.04" y2="407.02" stroke="#555" stroke-width="0.9"/>
<text x="1133.94" y="404.49" font-size="7" fill="#666" text-anchor="end" dominant-baseline="middle" transform="rotate(39.3 1133.94 404.49)">600</text>
<line x1="1158.09" y1="395.24" x2="1155.92" y2="393.17" stroke="#555" stroke-width="1.0"/>
<path d="M1205.60,395.96 L1185.20,371.31 A302,302 0 0 1 1189.29,367.98 L1209.25,392.99 A270,270 0 0 0 1205.60,395.96 Z" fill="#3E8E2E" stroke="#3E8E2E" stroke-width="0.3"/>
<path d="M1209.25,392.99 L1189.29,367.98 A302,302 0 0 1 1194.69,363.77 L1214.08,389.22 A270,270 0 0 0 1209.25,392.99 Z" fill="#E8650F" stroke="#E8650F" stroke-width="0.3"/>
<path d="M1214.08,389.22 L1194.69,363.77 A302,302 0 0 1 1196.37,362.50 L1215.59,388.09 A270,270 0 0 0 1214.08,389.22 Z" fill="#1A237E" stroke="#1A237E" stroke-width="0.3"/>
<path d="M1217.48,386.68 L1198.49,360.92 A302,302 0 0 1 1202.33,358.14 L1220.91,384.19 A270,270 0 0 0 1217.48,386.68 Z" fill="#DDA36E" stroke="#DDA36E" stroke-width="0.3"/>
<path d="M1222.83,382.83 L1204.48,356.62 A302,302 0 0 1 1205.34,356.01 L1223.61,382.29 A270,270 0 0 0 1222.83,382.83 Z" fill="#777777" stroke="#777777" stroke-width="0.3"/>
<path d="M1225.55,380.95 L1207.52,354.52 A302,302 0 0 1 1208.39,353.93 L1226.33,380.42 A270,270 0 0 0 1225.55,380.95 Z" fill="#777777" stroke="#777777" stroke-width="0.3"/>
<path d="M1230.65,377.56 L1213.22,350.72 A302,302 0 0 1 1224.88,343.52 L1241.07,371.12 A270,270 0 0 0 1230.65,377.56 Z" fill="#9AC31C" stroke="#9AC31C" stroke-width="0.3"/>
<path d="M1235.42,374.53 L1218.56,347.33 A302,302 0 0 1 1219.91,346.50 L1236.63,373.79 A270,270 0 0 0 1235.42,374.53 Z" fill="#4A6A10" stroke="#4A6A10" stroke-width="0.3"/>
<path d="M1243.11,369.94 L1227.16,342.20 A302,302 0 0 1 1229.91,340.64 L1245.57,368.54 A270,270 0 0 0 1243.11,369.94 Z" fill="#9AC31C" stroke="#9AC31C" stroke-width="0.3"/>
<path d="M1245.98,368.31 L1230.37,340.38 A302,302 0 0 1 1233.14,338.85 L1248.45,366.94 A270,270 0 0 0 1245.98,368.31 Z" fill="#DDA36E" stroke="#DDA36E" stroke-width="0.3"/>
<path d="M1260.19,360.91 L1246.26,332.10 A302,302 0 0 1 1277.88,318.97 L1288.46,349.17 A270,270 0 0 0 1260.19,360.91 Z" fill="#C0142A" stroke="#C0142A" stroke-width="0.3"/>
<path d="M1269.61,356.58 L1256.79,327.26 A302,302 0 0 1 1258.25,326.63 L1270.90,356.02 A270,270 0 0 0 1269.61,356.58 Z" fill="#7A1020" stroke="#7A1020" stroke-width="0.3"/>
<path d="M1279.62,352.44 L1268.00,322.63 A302,302 0 0 1 1269.47,322.06 L1280.94,351.93 A270,270 0 0 0 1279.62,352.44 Z" fill="#7A1020" stroke="#7A1020" stroke-width="0.3"/>
<path d="M1307.82,343.20 L1299.54,312.29 A302,302 0 0 1 1301.58,311.75 L1309.64,342.72 A270,270 0 0 0 1307.82,343.20 Z" fill="#333344" stroke="#333344" stroke-width="0.3"/>
<path d="M1303.28,344.46 L1294.46,313.70 A302,302 0 0 1 1295.47,313.41 L1304.18,344.20 A270,270 0 0 0 1303.28,344.46 Z" fill="#556655" stroke="#556655" stroke-width="0.3"/>
<path d="M1323.41,339.51 L1316.97,308.17 A302,302 0 0 1 1335.67,304.94 L1340.12,336.63 A270,270 0 0 0 1323.41,339.51 Z" fill="#0B6B2E" stroke="#0B6B2E" stroke-width="0.3"/>
<path d="M1331.28,338.02 L1325.78,306.50 A302,302 0 0 1 1327.34,306.23 L1332.67,337.78 A270,270 0 0 0 1331.28,338.02 Z" fill="#054020" stroke="#054020" stroke-width="0.3"/>
<path d="M1320.64,340.10 L1313.88,308.82 A302,302 0 0 1 1315.94,308.38 L1322.49,339.71 A270,270 0 0 0 1320.64,340.10 Z" fill="#C09070" stroke="#C09070" stroke-width="0.3"/>
<path d="M1341.06,336.50 L1336.71,304.79 A302,302 0 0 1 1345.61,303.71 L1349.01,335.53 A270,270 0 0 0 1341.06,336.50 Z" fill="#FFFAD0" stroke="#FFFAD0" stroke-width="0.3"/>
<path d="M1350.88,335.33 L1347.71,303.49 A302,302 0 0 1 1350.33,303.24 L1353.23,335.11 A270,270 0 0 0 1350.88,335.33 Z" fill="#DDA36E" stroke="#DDA36E" stroke-width="0.3"/>
<path d="M1360.75,334.53 L1358.74,302.60 A302,302 0 0 1 1365.58,302.24 L1366.86,334.22 A270,270 0 0 0 1360.75,334.53 Z" fill="#F5D800" stroke="#F5D800" stroke-width="0.3"/>
<path d="M1369.69,334.12 L1368.74,302.13 A302,302 0 0 1 1370.85,302.08 L1371.57,334.07 A270,270 0 0 0 1369.69,334.12 Z" fill="#1A2C8A" stroke="#1A2C8A" stroke-width="0.3"/>
<path d="M1374.40,334.02 L1374.01,302.02 A302,302 0 0 1 1379.81,302.01 L1379.58,334.01 A270,270 0 0 0 1374.40,334.02 Z" fill="#9AC31C" stroke="#9AC31C" stroke-width="0.3"/>
<path d="M1405.92,335.48 L1409.27,303.65 A302,302 0 0 1 1413.98,304.19 L1410.14,335.96 A270,270 0 0 0 1405.92,335.48 Z" fill="#1E4D1E" stroke="#1E4D1E" stroke-width="0.3"/>
<path d="M1414.81,336.56 L1419.21,304.87 A302,302 0 0 1 1420.77,305.09 L1416.21,336.76 A270,270 0 0 0 1414.81,336.56 Z" fill="#556677" stroke="#556677" stroke-width="0.3"/>
<path d="M1421.33,337.55 L1426.50,305.97 A302,302 0 0 1 1428.58,306.32 L1423.19,337.86 A270,270 0 0 0 1421.33,337.55 Z" fill="#C09A70" stroke="#C09A70" stroke-width="0.3"/>
<path d="M1425.05,338.18 L1430.66,306.68 A302,302 0 0 1 1442.04,308.93 L1435.22,340.20 A270,270 0 0 0 1425.05,338.18 Z" fill="#E8640F" stroke="#E8640F" stroke-width="0.3"/>
<path d="M1440.27,341.35 L1447.69,310.22 A302,302 0 0 1 1449.74,310.72 L1442.10,341.79 A270,270 0 0 0 1440.27,341.35 Z" fill="#557755" stroke="#557755" stroke-width="0.3"/>
<path d="M1447.58,343.20 L1455.86,312.29 A302,302 0 0 1 1460.94,313.70 L1452.12,344.46 A270,270 0 0 0 1447.58,343.20 Z" fill="#C0142A" stroke="#C0142A" stroke-width="0.3"/>
<path d="M1452.12,344.46 L1460.94,313.70 A302,302 0 0 1 1490.83,323.99 L1478.84,353.66 A270,270 0 0 0 1452.12,344.46 Z" fill="#A87B44" stroke="#A87B44" stroke-width="0.3"/>
<path d="M1458.89,346.50 L1468.51,315.98 A302,302 0 0 1 1470.02,316.46 L1460.24,346.93 A270,270 0 0 0 1458.89,346.50 Z" fill="#7A5020" stroke="#7A5020" stroke-width="0.3"/>
<path d="M1467.83,349.49 L1478.51,319.32 A302,302 0 0 1 1480.00,319.85 L1469.16,349.96 A270,270 0 0 0 1467.83,349.49 Z" fill="#D0A070" stroke="#D0A070" stroke-width="0.3"/>
<path d="M1492.23,359.50 L1505.81,330.52 A302,302 0 0 1 1519.48,337.35 L1504.46,365.60 A270,270 0 0 0 1492.23,359.50 Z" fill="#FFE800" stroke="#FFE800" stroke-width="0.3"/>
<path d="M1505.29,366.05 L1520.41,337.85 A302,302 0 0 1 1524.11,339.86 L1508.60,367.85 A270,270 0 0 0 1505.29,366.05 Z" fill="#A08060" stroke="#A08060" stroke-width="0.3"/>
<path d="M1510.65,369.00 L1526.41,341.15 A302,302 0 0 1 1527.79,341.93 L1511.88,369.70 A270,270 0 0 0 1510.65,369.00 Z" fill="#A08060" stroke="#A08060" stroke-width="0.3"/>
<path d="M1538.61,389.68 L1555.42,367.29 A296,296 0 0 1 1562.77,372.99 L1545.27,394.84 A268,268 0 0 0 1538.61,389.68 Z" fill="#FFE800" stroke="#FFE800" stroke-width="0.3"/>
<path d="M1534.47,386.63 L1550.85,363.93 A296,296 0 0 1 1552.52,365.14 L1535.98,387.73 A268,268 0 0 0 1534.47,386.63 Z" fill="#777788" stroke="#777788" stroke-width="0.3"/>
<path d="M1558.72,403.67 L1580.17,379.92 A302,302 0 0 1 1595.67,394.97 L1572.58,417.12 A270,270 0 0 0 1558.72,403.67 Z" fill="#FFE800" stroke="#FFE800" stroke-width="0.3"/>
<path d="M1562.53,407.18 L1584.43,383.85 A302,302 0 0 1 1585.58,384.94 L1563.56,408.15 A270,270 0 0 0 1562.53,407.18 Z" fill="#3A6A4A" stroke="#3A6A4A" stroke-width="0.3"/>
<path d="M1566.95,411.42 L1589.37,388.60 A302,302 0 0 1 1590.87,390.08 L1568.29,412.75 A270,270 0 0 0 1566.95,411.42 Z" fill="#9A9A20" stroke="#9A9A20" stroke-width="0.3"/>
<path d="M1570.61,415.09 L1593.47,392.70 A302,302 0 0 1 1594.94,394.21 L1571.92,416.44 A270,270 0 0 0 1570.61,415.09 Z" fill="#A07050" stroke="#A07050" stroke-width="0.3"/>
<path d="M1573.23,417.80 L1596.40,395.73 A302,302 0 0 1 1609.38,410.28 L1584.83,430.81 A270,270 0 0 0 1573.23,417.80 Z" fill="#FFF9D2" stroke="#FFF9D2" stroke-width="0.3"/>
<path d="M1204.91,356.31 L1187.75,331.71 A332,332 0 0 1 1189.65,330.39 L1206.65,355.11 A302,302 0 0 0 1204.91,356.31 Z" fill="#3E6E2E" stroke="#3E6E2E" stroke-width="0.3"/>
<path d="M1208.39,353.93 L1191.57,329.08 A332,332 0 0 1 1194.94,326.83 L1211.45,351.88 A302,302 0 0 0 1208.39,353.93 Z" fill="#1A237E" stroke="#1A237E" stroke-width="0.3"/>
<path d="M1262.13,324.99 L1250.65,297.27 A332,332 0 0 1 1252.26,296.61 L1263.59,324.39 A302,302 0 0 0 1262.13,324.99 Z" fill="#666666" stroke="#666666" stroke-width="0.3"/>
<path d="M1267.51,322.82 L1256.56,294.89 A332,332 0 0 1 1258.18,294.26 L1268.98,322.25 A302,302 0 0 0 1267.51,322.82 Z" fill="#4A6A4A" stroke="#4A6A4A" stroke-width="0.3"/>
<path d="M1285.38,316.46 L1276.21,287.89 A332,332 0 0 1 1277.87,287.37 L1286.89,315.98 A302,302 0 0 0 1285.38,316.46 Z" fill="#666666" stroke="#666666" stroke-width="0.3"/>
<path d="M1302.60,311.49 L1295.13,282.43 A332,332 0 0 1 1305.28,280.00 L1311.82,309.27 A302,302 0 0 0 1302.60,311.49 Z" fill="#3E8E2E" stroke="#3E8E2E" stroke-width="0.3"/>
<path d="M1306.69,310.47 L1299.63,281.31 A332,332 0 0 1 1301.32,280.90 L1308.22,310.10 A302,302 0 0 0 1306.69,310.47 Z" fill="#2A5A2A" stroke="#2A5A2A" stroke-width="0.3"/>
<path d="M1313.36,308.93 L1306.97,279.62 A332,332 0 0 1 1308.67,279.25 L1314.91,308.60 A302,302 0 0 0 1313.36,308.93 Z" fill="#4A6A4A" stroke="#4A6A4A" stroke-width="0.3"/>
<path d="M1350.85,303.20 L1348.19,273.31 A332,332 0 0 1 1349.92,273.16 L1352.43,303.06 A302,302 0 0 0 1350.85,303.20 Z" fill="#445577" stroke="#445577" stroke-width="0.3"/>
<path d="M1357.69,302.66 L1355.70,272.73 A332,332 0 0 1 1359.17,272.52 L1360.84,302.47 A302,302 0 0 0 1357.69,302.66 Z" fill="#1A2C8A" stroke="#1A2C8A" stroke-width="0.3"/>
<path d="M1371.90,302.06 L1371.33,272.06 A332,332 0 0 1 1372.49,272.04 L1372.96,302.04 A302,302 0 0 0 1371.90,302.06 Z" fill="#888888" stroke="#888888" stroke-width="0.3"/>
<path d="M1382.44,302.04 L1382.91,272.04 A332,332 0 0 1 1388.71,272.18 L1387.71,302.17 A302,302 0 0 0 1382.44,302.04 Z" fill="#22AA3A" stroke="#22AA3A" stroke-width="0.3"/>
<path d="M1390.87,302.29 L1392.18,272.32 A332,332 0 0 1 1401.44,272.85 L1399.29,302.77 A302,302 0 0 0 1390.87,302.29 Z" fill="#B030B0" stroke="#B030B0" stroke-width="0.3"/>
<path d="M1400.34,302.85 L1402.59,272.93 A332,332 0 0 1 1406.64,273.26 L1404.02,303.15 A302,302 0 0 0 1400.34,302.85 Z" fill="#FFF9D2" stroke="#FFF9D2" stroke-width="0.3"/>
<path d="M1404.55,303.20 L1407.21,273.31 A332,332 0 0 1 1410.67,273.64 L1407.69,303.49 A302,302 0 0 0 1404.55,303.20 Z" fill="#B030B0" stroke="#B030B0" stroke-width="0.3"/>
<path d="M1408.74,303.60 L1411.83,273.76 A332,332 0 0 1 1417.01,274.34 L1413.46,304.12 A302,302 0 0 0 1408.74,303.60 Z" fill="#7BA428" stroke="#7BA428" stroke-width="0.3"/>
<path d="M1420.25,305.01 L1424.48,275.31 A332,332 0 0 1 1426.20,275.56 L1421.82,305.24 A302,302 0 0 0 1420.25,305.01 Z" fill="#6A7A5A" stroke="#6A7A5A" stroke-width="0.3"/>
<path d="M1425.46,305.80 L1430.21,276.18 A332,332 0 0 1 1432.50,276.55 L1427.54,306.14 A302,302 0 0 0 1425.46,305.80 Z" fill="#B09070" stroke="#B09070" stroke-width="0.3"/>
<path d="M1449.23,310.59 L1456.33,281.45 A332,332 0 0 1 1464.19,283.46 L1456.37,312.43 A302,302 0 0 0 1449.23,310.59 Z" fill="#3E8E2E" stroke="#3E8E2E" stroke-width="0.3"/>
<path d="M1456.37,312.43 L1464.19,283.46 A332,332 0 0 1 1473.66,286.17 L1464.99,314.89 A302,302 0 0 0 1456.37,312.43 Z" fill="#7BA428" stroke="#7BA428" stroke-width="0.3"/>
<path d="M1455.35,312.15 L1463.07,283.16 A332,332 0 0 1 1464.75,283.61 L1456.88,312.57 A302,302 0 0 0 1455.35,312.15 Z" fill="#999999" stroke="#999999" stroke-width="0.3"/>
<path d="M1491.81,324.39 L1503.14,296.61 A332,332 0 0 1 1526.87,307.40 L1513.39,334.20 A302,302 0 0 0 1491.81,324.39 Z" fill="#FFF9D2" stroke="#FFF9D2" stroke-width="0.3"/>
<path d="M1533.24,345.14 L1548.69,319.42 A332,332 0 0 1 1556.08,323.99 L1539.96,349.30 A302,302 0 0 0 1533.24,345.14 Z" fill="#E8001C" stroke="#E8001C" stroke-width="0.3"/>
<path d="M1539.96,349.30 L1556.08,323.99 A332,332 0 0 1 1563.35,328.76 L1546.58,353.63 A302,302 0 0 0 1539.96,349.30 Z" fill="#1A2C8A" stroke="#1A2C8A" stroke-width="0.3"/>
<path d="M1546.58,353.63 L1563.35,328.76 A332,332 0 0 1 1571.91,334.73 L1554.36,359.06 A302,302 0 0 0 1546.58,353.63 Z" fill="#E8001C" stroke="#E8001C" stroke-width="0.3"/>
<path d="M1554.78,359.37 L1572.38,335.07 A332,332 0 0 1 1573.78,336.09 L1556.06,360.30 A302,302 0 0 0 1554.78,359.37 Z" fill="#8A7A6A" stroke="#8A7A6A" stroke-width="0.3"/>
<path d="M1558.61,362.18 L1576.58,338.16 A332,332 0 0 1 1579.35,340.25 L1561.13,364.09 A302,302 0 0 0 1558.61,362.18 Z" fill="#FFF9D2" stroke="#FFF9D2" stroke-width="0.3"/>
<path d="M1570.61,371.64 L1589.77,348.56 A332,332 0 0 1 1591.11,349.67 L1571.82,372.65 A302,302 0 0 0 1570.61,371.64 Z" fill="#A09080" stroke="#A09080" stroke-width="0.3"/>
<path d="M1574.63,375.04 L1594.20,352.30 A332,332 0 0 1 1598.56,356.12 L1578.60,378.52 A302,302 0 0 0 1574.63,375.04 Z" fill="#A020A0" stroke="#A020A0" stroke-width="0.3"/>
<line x1="1183.34" y1="371.55" x2="1181.42" y2="369.25" stroke="#888" stroke-width="0.8"/>
<line x1="1187.43" y1="368.19" x2="1185.54" y2="365.86" stroke="#888" stroke-width="0.8"/>
<line x1="1191.57" y1="364.91" x2="1189.73" y2="362.54" stroke="#888" stroke-width="0.8"/>
<line x1="1195.77" y1="361.70" x2="1193.97" y2="359.30" stroke="#888" stroke-width="0.8"/>
<line x1="1200.03" y1="358.56" x2="1198.27" y2="356.13" stroke="#888" stroke-width="0.8"/>
<line x1="1204.34" y1="355.49" x2="1202.62" y2="353.03" stroke="#888" stroke-width="0.8"/>
<line x1="1208.70" y1="352.51" x2="1207.03" y2="350.02" stroke="#888" stroke-width="0.8"/>
<line x1="1213.12" y1="349.60" x2="1211.49" y2="347.08" stroke="#888" stroke-width="0.8"/>
<line x1="1217.58" y1="346.76" x2="1216.00" y2="344.21" stroke="#888" stroke-width="0.8"/>
<line x1="1222.10" y1="344.01" x2="1220.56" y2="341.43" stroke="#888" stroke-width="0.8"/>
<line x1="1226.66" y1="341.33" x2="1225.16" y2="338.73" stroke="#888" stroke-width="0.8"/>
<line x1="1231.27" y1="338.73" x2="1229.82" y2="336.11" stroke="#888" stroke-width="0.8"/>
<line x1="1235.92" y1="336.22" x2="1234.51" y2="333.57" stroke="#888" stroke-width="0.8"/>
<line x1="1240.61" y1="333.79" x2="1239.25" y2="331.11" stroke="#888" stroke-width="0.8"/>
<line x1="1245.35" y1="331.43" x2="1244.04" y2="328.74" stroke="#888" stroke-width="0.8"/>
<line x1="1250.13" y1="329.17" x2="1248.86" y2="326.44" stroke="#888" stroke-width="0.8"/>
<line x1="1254.94" y1="326.98" x2="1253.73" y2="324.24" stroke="#888" stroke-width="0.8"/>
<line x1="1259.80" y1="324.88" x2="1258.63" y2="322.12" stroke="#888" stroke-width="0.8"/>
<line x1="1264.68" y1="322.87" x2="1263.57" y2="320.08" stroke="#888" stroke-width="0.8"/>
<line x1="1269.61" y1="320.94" x2="1268.54" y2="318.13" stroke="#888" stroke-width="0.8"/>
<line x1="1274.56" y1="319.09" x2="1273.54" y2="316.27" stroke="#888" stroke-width="0.8"/>
<line x1="1279.55" y1="317.34" x2="1278.58" y2="314.50" stroke="#888" stroke-width="0.8"/>
<line x1="1284.57" y1="315.67" x2="1283.65" y2="312.81" stroke="#888" stroke-width="0.8"/>
<line x1="1289.62" y1="314.09" x2="1288.75" y2="311.22" stroke="#888" stroke-width="0.8"/>
<line x1="1294.69" y1="312.59" x2="1293.87" y2="309.71" stroke="#888" stroke-width="0.8"/>
<line x1="1299.79" y1="311.19" x2="1299.02" y2="308.29" stroke="#888" stroke-width="0.8"/>
<line x1="1304.91" y1="309.87" x2="1304.19" y2="306.96" stroke="#888" stroke-width="0.8"/>
<line x1="1310.06" y1="308.65" x2="1309.39" y2="305.72" stroke="#888" stroke-width="0.8"/>
<line x1="1315.22" y1="307.51" x2="1314.60" y2="304.58" stroke="#888" stroke-width="0.8"/>
<line x1="1320.40" y1="306.47" x2="1319.84" y2="303.52" stroke="#888" stroke-width="0.8"/>
<line x1="1325.61" y1="305.51" x2="1325.09" y2="302.56" stroke="#888" stroke-width="0.8"/>
<line x1="1330.82" y1="304.65" x2="1330.36" y2="301.68" stroke="#888" stroke-width="0.8"/>
<line x1="1336.05" y1="303.88" x2="1335.64" y2="300.90" stroke="#888" stroke-width="0.8"/>
<line x1="1341.30" y1="303.19" x2="1340.94" y2="300.22" stroke="#888" stroke-width="0.8"/>
<line x1="1346.55" y1="302.61" x2="1346.25" y2="299.62" stroke="#888" stroke-width="0.8"/>
<line x1="1351.82" y1="302.11" x2="1351.56" y2="299.12" stroke="#888" stroke-width="0.8"/>
<line x1="1357.09" y1="301.70" x2="1356.89" y2="298.71" stroke="#888" stroke-width="0.8"/>
<line x1="1362.37" y1="301.39" x2="1362.22" y2="298.39" stroke="#888" stroke-width="0.8"/>
<line x1="1367.65" y1="301.17" x2="1367.55" y2="298.17" stroke="#888" stroke-width="0.8"/>
<line x1="1372.94" y1="301.04" x2="1372.89" y2="298.04" stroke="#888" stroke-width="0.8"/>
<line x1="1378.23" y1="301.00" x2="1378.23" y2="298.00" stroke="#888" stroke-width="0.8"/>
<line x1="1383.52" y1="301.06" x2="1383.57" y2="298.06" stroke="#888" stroke-width="0.8"/>
<line x1="1388.80" y1="301.20" x2="1388.91" y2="298.21" stroke="#888" stroke-width="0.8"/>
<line x1="1394.09" y1="301.44" x2="1394.25" y2="298.45" stroke="#888" stroke-width="0.8"/>
<line x1="1399.36" y1="301.78" x2="1399.58" y2="298.78" stroke="#888" stroke-width="0.8"/>
<line x1="1404.63" y1="302.20" x2="1404.90" y2="299.21" stroke="#888" stroke-width="0.8"/>
<line x1="1409.90" y1="302.72" x2="1410.22" y2="299.73" stroke="#888" stroke-width="0.8"/>
<line x1="1415.15" y1="303.32" x2="1415.52" y2="300.35" stroke="#888" stroke-width="0.8"/>
<line x1="1420.39" y1="304.02" x2="1420.82" y2="301.05" stroke="#888" stroke-width="0.8"/>
<line x1="1425.62" y1="304.81" x2="1426.10" y2="301.85" stroke="#888" stroke-width="0.8"/>
<line x1="1430.84" y1="305.70" x2="1431.36" y2="302.74" stroke="#888" stroke-width="0.8"/>
<line x1="1436.03" y1="306.67" x2="1436.61" y2="303.72" stroke="#888" stroke-width="0.8"/>
<line x1="1441.21" y1="307.73" x2="1441.84" y2="304.80" stroke="#888" stroke-width="0.8"/>
<line x1="1446.38" y1="308.89" x2="1447.06" y2="305.96" stroke="#888" stroke-width="0.8"/>
<line x1="1451.52" y1="310.13" x2="1452.25" y2="307.22" stroke="#888" stroke-width="0.8"/>
<line x1="1456.63" y1="311.46" x2="1457.41" y2="308.57" stroke="#888" stroke-width="0.8"/>
<line x1="1461.73" y1="312.88" x2="1462.56" y2="310.00" stroke="#888" stroke-width="0.8"/>
<line x1="1466.79" y1="314.39" x2="1467.68" y2="311.53" stroke="#888" stroke-width="0.8"/>
<line x1="1471.83" y1="315.99" x2="1472.77" y2="313.14" stroke="#888" stroke-width="0.8"/>
<line x1="1476.85" y1="317.68" x2="1477.83" y2="314.85" stroke="#888" stroke-width="0.8"/>
<line x1="1481.83" y1="319.45" x2="1482.86" y2="316.64" stroke="#888" stroke-width="0.8"/>
<line x1="1486.78" y1="321.32" x2="1487.86" y2="318.52" stroke="#888" stroke-width="0.8"/>
<line x1="1491.70" y1="323.26" x2="1492.82" y2="320.48" stroke="#888" stroke-width="0.8"/>
<line x1="1496.58" y1="325.29" x2="1497.76" y2="322.53" stroke="#888" stroke-width="0.8"/>
<line x1="1501.42" y1="327.41" x2="1502.65" y2="324.67" stroke="#888" stroke-width="0.8"/>
<line x1="1506.23" y1="329.61" x2="1507.51" y2="326.90" stroke="#888" stroke-width="0.8"/>
<line x1="1511.00" y1="331.90" x2="1512.32" y2="329.20" stroke="#888" stroke-width="0.8"/>
<line x1="1515.73" y1="334.27" x2="1517.10" y2="331.59" stroke="#888" stroke-width="0.8"/>
<line x1="1520.42" y1="336.72" x2="1521.83" y2="334.07" stroke="#888" stroke-width="0.8"/>
<line x1="1525.06" y1="339.25" x2="1526.52" y2="336.63" stroke="#888" stroke-width="0.8"/>
<line x1="1529.66" y1="341.86" x2="1531.16" y2="339.26" stroke="#888" stroke-width="0.8"/>
<line x1="1534.21" y1="344.55" x2="1535.76" y2="341.98" stroke="#888" stroke-width="0.8"/>
<line x1="1538.71" y1="347.32" x2="1540.31" y2="344.78" stroke="#888" stroke-width="0.8"/>
<line x1="1543.17" y1="350.17" x2="1544.81" y2="347.66" stroke="#888" stroke-width="0.8"/>
<line x1="1547.57" y1="353.10" x2="1549.26" y2="350.61" stroke="#888" stroke-width="0.8"/>
<line x1="1551.93" y1="356.10" x2="1553.65" y2="353.65" stroke="#888" stroke-width="0.8"/>
<line x1="1556.23" y1="359.18" x2="1557.99" y2="356.76" stroke="#888" stroke-width="0.8"/>
<line x1="1560.47" y1="362.33" x2="1562.28" y2="359.94" stroke="#888" stroke-width="0.8"/>
<line x1="1564.66" y1="365.56" x2="1566.51" y2="363.20" stroke="#888" stroke-width="0.8"/>
<line x1="1568.79" y1="368.86" x2="1570.69" y2="366.53" stroke="#888" stroke-width="0.8"/>
<line x1="1572.87" y1="372.23" x2="1574.80" y2="369.93" stroke="#888" stroke-width="0.8"/>
<line x1="1576.88" y1="375.67" x2="1578.86" y2="373.41" stroke="#888" stroke-width="0.8"/>
<line x1="1580.84" y1="379.18" x2="1582.85" y2="376.96" stroke="#888" stroke-width="0.8"/>
<line x1="1584.73" y1="382.76" x2="1586.78" y2="380.57" stroke="#888" stroke-width="0.8"/>
<line x1="1588.56" y1="386.41" x2="1590.65" y2="384.25" stroke="#888" stroke-width="0.8"/>
<line x1="1592.33" y1="390.12" x2="1594.45" y2="388.00" stroke="#888" stroke-width="0.8"/>
<line x1="1596.03" y1="393.90" x2="1598.19" y2="391.82" stroke="#888" stroke-width="0.8"/>
<line x1="1599.66" y1="397.74" x2="1601.86" y2="395.70" stroke="#888" stroke-width="0.8"/>
<line x1="1603.23" y1="401.65" x2="1605.46" y2="399.64" stroke="#888" stroke-width="0.8"/>
<line x1="1606.72" y1="405.61" x2="1608.99" y2="403.65" stroke="#888" stroke-width="0.8"/>
<line x1="1610.15" y1="409.64" x2="1612.45" y2="407.72" stroke="#888" stroke-width="0.8"/>
<path d="M1183.98,372.32 A302.00,302.00 0 0 1 1609.38,410.28" fill="none" stroke="#2E7D0E" stroke-width="2.6"/>
</svg>
</body></html>
